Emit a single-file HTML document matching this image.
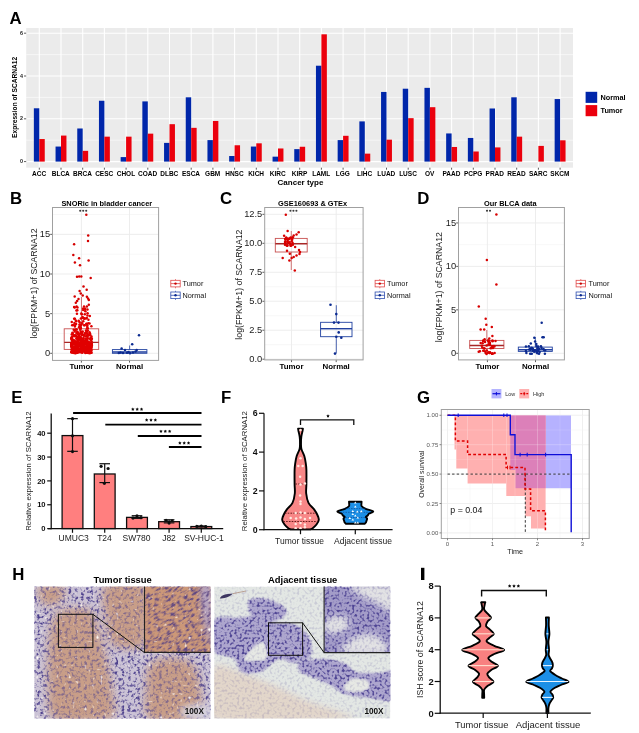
<!DOCTYPE html>
<html><head><meta charset="utf-8"><style>
html,body{margin:0;padding:0;background:#fff;width:639px;height:733px;overflow:hidden}
svg{display:block;will-change:transform}
text{font-family:"Liberation Sans", sans-serif}
</style></head><body>
<svg width="639" height="733" viewBox="0 0 639 733">
<rect width="639" height="733" fill="#fff"/>
<filter id="soft" x="0" y="0" width="639" height="733" filterUnits="userSpaceOnUse"><feGaussianBlur stdDeviation="0.33"/></filter>
<g filter="url(#soft)">
<text x="9.4" y="23.9" font-size="16.8" font-weight="bold" fill="#000">A</text>
<rect x="26.2" y="28" width="546.8" height="139.7" fill="#EBEBEB" stroke="none" stroke-width="1"/>
<line x1="26.2" y1="140.2" x2="573" y2="140.2" stroke="#FFFFFF" stroke-width="0.55"/>
<line x1="26.2" y1="97.4" x2="573" y2="97.4" stroke="#FFFFFF" stroke-width="0.55"/>
<line x1="26.2" y1="54.6" x2="573" y2="54.6" stroke="#FFFFFF" stroke-width="0.55"/>
<line x1="26.2" y1="161.6" x2="573" y2="161.6" stroke="#FFFFFF" stroke-width="1.1"/>
<line x1="26.2" y1="118.8" x2="573" y2="118.8" stroke="#FFFFFF" stroke-width="1.1"/>
<line x1="26.2" y1="76" x2="573" y2="76" stroke="#FFFFFF" stroke-width="1.1"/>
<line x1="26.2" y1="33.2" x2="573" y2="33.2" stroke="#FFFFFF" stroke-width="1.1"/>
<line x1="39.3" y1="28" x2="39.3" y2="167.7" stroke="#FFFFFF" stroke-width="1.1"/>
<line x1="61" y1="28" x2="61" y2="167.7" stroke="#FFFFFF" stroke-width="1.1"/>
<line x1="82.7" y1="28" x2="82.7" y2="167.7" stroke="#FFFFFF" stroke-width="1.1"/>
<line x1="104.4" y1="28" x2="104.4" y2="167.7" stroke="#FFFFFF" stroke-width="1.1"/>
<line x1="126.1" y1="28" x2="126.1" y2="167.7" stroke="#FFFFFF" stroke-width="1.1"/>
<line x1="147.8" y1="28" x2="147.8" y2="167.7" stroke="#FFFFFF" stroke-width="1.1"/>
<line x1="169.5" y1="28" x2="169.5" y2="167.7" stroke="#FFFFFF" stroke-width="1.1"/>
<line x1="191.2" y1="28" x2="191.2" y2="167.7" stroke="#FFFFFF" stroke-width="1.1"/>
<line x1="212.9" y1="28" x2="212.9" y2="167.7" stroke="#FFFFFF" stroke-width="1.1"/>
<line x1="234.6" y1="28" x2="234.6" y2="167.7" stroke="#FFFFFF" stroke-width="1.1"/>
<line x1="256.3" y1="28" x2="256.3" y2="167.7" stroke="#FFFFFF" stroke-width="1.1"/>
<line x1="278" y1="28" x2="278" y2="167.7" stroke="#FFFFFF" stroke-width="1.1"/>
<line x1="299.7" y1="28" x2="299.7" y2="167.7" stroke="#FFFFFF" stroke-width="1.1"/>
<line x1="321.4" y1="28" x2="321.4" y2="167.7" stroke="#FFFFFF" stroke-width="1.1"/>
<line x1="343.1" y1="28" x2="343.1" y2="167.7" stroke="#FFFFFF" stroke-width="1.1"/>
<line x1="364.8" y1="28" x2="364.8" y2="167.7" stroke="#FFFFFF" stroke-width="1.1"/>
<line x1="386.5" y1="28" x2="386.5" y2="167.7" stroke="#FFFFFF" stroke-width="1.1"/>
<line x1="408.2" y1="28" x2="408.2" y2="167.7" stroke="#FFFFFF" stroke-width="1.1"/>
<line x1="429.9" y1="28" x2="429.9" y2="167.7" stroke="#FFFFFF" stroke-width="1.1"/>
<line x1="451.6" y1="28" x2="451.6" y2="167.7" stroke="#FFFFFF" stroke-width="1.1"/>
<line x1="473.3" y1="28" x2="473.3" y2="167.7" stroke="#FFFFFF" stroke-width="1.1"/>
<line x1="495" y1="28" x2="495" y2="167.7" stroke="#FFFFFF" stroke-width="1.1"/>
<line x1="516.7" y1="28" x2="516.7" y2="167.7" stroke="#FFFFFF" stroke-width="1.1"/>
<line x1="538.4" y1="28" x2="538.4" y2="167.7" stroke="#FFFFFF" stroke-width="1.1"/>
<line x1="560.1" y1="28" x2="560.1" y2="167.7" stroke="#FFFFFF" stroke-width="1.1"/>
<rect x="33.85" y="108.28" width="5.45" height="53.32" fill="#0028AA" stroke="none" stroke-width="1"/>
<rect x="39.3" y="139.03" width="5.45" height="22.57" fill="#EB000A" stroke="none" stroke-width="1"/>
<line x1="39.3" y1="167.7" x2="39.3" y2="169.7" stroke="#333" stroke-width="0.8"/>
<text x="39.1" y="175.94" font-size="6.5" font-weight="bold" text-anchor="middle" fill="#000">ACC</text>
<rect x="55.55" y="146.55" width="5.45" height="15.05" fill="#0028AA" stroke="none" stroke-width="1"/>
<rect x="61" y="135.58" width="5.45" height="26.02" fill="#EB000A" stroke="none" stroke-width="1"/>
<line x1="61" y1="167.7" x2="61" y2="169.7" stroke="#333" stroke-width="0.8"/>
<text x="60.8" y="175.94" font-size="6.5" font-weight="bold" text-anchor="middle" fill="#000">BLCA</text>
<rect x="77.25" y="128.49" width="5.45" height="33.11" fill="#0028AA" stroke="none" stroke-width="1"/>
<rect x="82.7" y="150.85" width="5.45" height="10.75" fill="#EB000A" stroke="none" stroke-width="1"/>
<line x1="82.7" y1="167.7" x2="82.7" y2="169.7" stroke="#333" stroke-width="0.8"/>
<text x="82.5" y="175.94" font-size="6.5" font-weight="bold" text-anchor="middle" fill="#000">BRCA</text>
<rect x="98.95" y="100.75" width="5.45" height="60.84" fill="#0028AA" stroke="none" stroke-width="1"/>
<rect x="104.4" y="136.66" width="5.45" height="24.94" fill="#EB000A" stroke="none" stroke-width="1"/>
<line x1="104.4" y1="167.7" x2="104.4" y2="169.7" stroke="#333" stroke-width="0.8"/>
<text x="104.2" y="175.94" font-size="6.5" font-weight="bold" text-anchor="middle" fill="#000">CESC</text>
<rect x="120.65" y="157.09" width="5.45" height="4.51" fill="#0028AA" stroke="none" stroke-width="1"/>
<rect x="126.1" y="136.66" width="5.45" height="24.94" fill="#EB000A" stroke="none" stroke-width="1"/>
<line x1="126.1" y1="167.7" x2="126.1" y2="169.7" stroke="#333" stroke-width="0.8"/>
<text x="125.9" y="175.94" font-size="6.5" font-weight="bold" text-anchor="middle" fill="#000">CHOL</text>
<rect x="142.35" y="101.4" width="5.45" height="60.2" fill="#0028AA" stroke="none" stroke-width="1"/>
<rect x="147.8" y="133.65" width="5.45" height="27.95" fill="#EB000A" stroke="none" stroke-width="1"/>
<line x1="147.8" y1="167.7" x2="147.8" y2="169.7" stroke="#333" stroke-width="0.8"/>
<text x="147.6" y="175.94" font-size="6.5" font-weight="bold" text-anchor="middle" fill="#000">COAD</text>
<rect x="164.05" y="142.89" width="5.45" height="18.71" fill="#0028AA" stroke="none" stroke-width="1"/>
<rect x="169.5" y="124.19" width="5.45" height="37.41" fill="#EB000A" stroke="none" stroke-width="1"/>
<line x1="169.5" y1="167.7" x2="169.5" y2="169.7" stroke="#333" stroke-width="0.8"/>
<text x="169.3" y="175.94" font-size="6.5" font-weight="bold" text-anchor="middle" fill="#000">DLBC</text>
<rect x="185.75" y="97.31" width="5.45" height="64.29" fill="#0028AA" stroke="none" stroke-width="1"/>
<rect x="191.2" y="127.84" width="5.45" height="33.75" fill="#EB000A" stroke="none" stroke-width="1"/>
<line x1="191.2" y1="167.7" x2="191.2" y2="169.7" stroke="#333" stroke-width="0.8"/>
<text x="191" y="175.94" font-size="6.5" font-weight="bold" text-anchor="middle" fill="#000">ESCA</text>
<rect x="207.45" y="140.1" width="5.45" height="21.5" fill="#0028AA" stroke="none" stroke-width="1"/>
<rect x="212.9" y="120.97" width="5.45" height="40.63" fill="#EB000A" stroke="none" stroke-width="1"/>
<line x1="212.9" y1="167.7" x2="212.9" y2="169.7" stroke="#333" stroke-width="0.8"/>
<text x="212.7" y="175.94" font-size="6.5" font-weight="bold" text-anchor="middle" fill="#000">GBM</text>
<rect x="229.15" y="156.01" width="5.45" height="5.59" fill="#0028AA" stroke="none" stroke-width="1"/>
<rect x="234.6" y="145.26" width="5.45" height="16.34" fill="#EB000A" stroke="none" stroke-width="1"/>
<line x1="234.6" y1="167.7" x2="234.6" y2="169.7" stroke="#333" stroke-width="0.8"/>
<text x="234.4" y="175.94" font-size="6.5" font-weight="bold" text-anchor="middle" fill="#000">HNSC</text>
<rect x="250.85" y="146.55" width="5.45" height="15.05" fill="#0028AA" stroke="none" stroke-width="1"/>
<rect x="256.3" y="143.32" width="5.45" height="18.28" fill="#EB000A" stroke="none" stroke-width="1"/>
<line x1="256.3" y1="167.7" x2="256.3" y2="169.7" stroke="#333" stroke-width="0.8"/>
<text x="256.1" y="175.94" font-size="6.5" font-weight="bold" text-anchor="middle" fill="#000">KICH</text>
<rect x="272.55" y="156.66" width="5.45" height="4.94" fill="#0028AA" stroke="none" stroke-width="1"/>
<rect x="278" y="148.48" width="5.45" height="13.12" fill="#EB000A" stroke="none" stroke-width="1"/>
<line x1="278" y1="167.7" x2="278" y2="169.7" stroke="#333" stroke-width="0.8"/>
<text x="277.8" y="175.94" font-size="6.5" font-weight="bold" text-anchor="middle" fill="#000">KIRC</text>
<rect x="294.25" y="149.13" width="5.45" height="12.47" fill="#0028AA" stroke="none" stroke-width="1"/>
<rect x="299.7" y="146.76" width="5.45" height="14.84" fill="#EB000A" stroke="none" stroke-width="1"/>
<line x1="299.7" y1="167.7" x2="299.7" y2="169.7" stroke="#333" stroke-width="0.8"/>
<text x="299.5" y="175.94" font-size="6.5" font-weight="bold" text-anchor="middle" fill="#000">KIRP</text>
<rect x="315.95" y="65.71" width="5.45" height="95.89" fill="#0028AA" stroke="none" stroke-width="1"/>
<rect x="321.4" y="34.32" width="5.45" height="127.28" fill="#EB000A" stroke="none" stroke-width="1"/>
<line x1="321.4" y1="167.7" x2="321.4" y2="169.7" stroke="#333" stroke-width="0.8"/>
<text x="321.2" y="175.94" font-size="6.5" font-weight="bold" text-anchor="middle" fill="#000">LAML</text>
<rect x="337.65" y="140.1" width="5.45" height="21.5" fill="#0028AA" stroke="none" stroke-width="1"/>
<rect x="343.1" y="135.8" width="5.45" height="25.8" fill="#EB000A" stroke="none" stroke-width="1"/>
<line x1="343.1" y1="167.7" x2="343.1" y2="169.7" stroke="#333" stroke-width="0.8"/>
<text x="342.9" y="175.94" font-size="6.5" font-weight="bold" text-anchor="middle" fill="#000">LGG</text>
<rect x="359.35" y="121.39" width="5.45" height="40.21" fill="#0028AA" stroke="none" stroke-width="1"/>
<rect x="364.8" y="153.64" width="5.45" height="7.96" fill="#EB000A" stroke="none" stroke-width="1"/>
<line x1="364.8" y1="167.7" x2="364.8" y2="169.7" stroke="#333" stroke-width="0.8"/>
<text x="364.6" y="175.94" font-size="6.5" font-weight="bold" text-anchor="middle" fill="#000">LIHC</text>
<rect x="381.05" y="91.94" width="5.45" height="69.66" fill="#0028AA" stroke="none" stroke-width="1"/>
<rect x="386.5" y="139.67" width="5.45" height="21.93" fill="#EB000A" stroke="none" stroke-width="1"/>
<line x1="386.5" y1="167.7" x2="386.5" y2="169.7" stroke="#333" stroke-width="0.8"/>
<text x="386.3" y="175.94" font-size="6.5" font-weight="bold" text-anchor="middle" fill="#000">LUAD</text>
<rect x="402.75" y="88.71" width="5.45" height="72.89" fill="#0028AA" stroke="none" stroke-width="1"/>
<rect x="408.2" y="118.17" width="5.45" height="43.43" fill="#EB000A" stroke="none" stroke-width="1"/>
<line x1="408.2" y1="167.7" x2="408.2" y2="169.7" stroke="#333" stroke-width="0.8"/>
<text x="408" y="175.94" font-size="6.5" font-weight="bold" text-anchor="middle" fill="#000">LUSC</text>
<rect x="424.45" y="87.85" width="5.45" height="73.75" fill="#0028AA" stroke="none" stroke-width="1"/>
<rect x="429.9" y="107.2" width="5.45" height="54.39" fill="#EB000A" stroke="none" stroke-width="1"/>
<line x1="429.9" y1="167.7" x2="429.9" y2="169.7" stroke="#333" stroke-width="0.8"/>
<text x="429.7" y="175.94" font-size="6.5" font-weight="bold" text-anchor="middle" fill="#000">OV</text>
<rect x="446.15" y="133.44" width="5.45" height="28.16" fill="#0028AA" stroke="none" stroke-width="1"/>
<rect x="451.6" y="146.98" width="5.45" height="14.62" fill="#EB000A" stroke="none" stroke-width="1"/>
<line x1="451.6" y1="167.7" x2="451.6" y2="169.7" stroke="#333" stroke-width="0.8"/>
<text x="451.4" y="175.94" font-size="6.5" font-weight="bold" text-anchor="middle" fill="#000">PAAD</text>
<rect x="467.85" y="137.95" width="5.45" height="23.65" fill="#0028AA" stroke="none" stroke-width="1"/>
<rect x="473.3" y="151.5" width="5.45" height="10.1" fill="#EB000A" stroke="none" stroke-width="1"/>
<line x1="473.3" y1="167.7" x2="473.3" y2="169.7" stroke="#333" stroke-width="0.8"/>
<text x="473.1" y="175.94" font-size="6.5" font-weight="bold" text-anchor="middle" fill="#000">PCPG</text>
<rect x="489.55" y="108.49" width="5.45" height="53.11" fill="#0028AA" stroke="none" stroke-width="1"/>
<rect x="495" y="147.41" width="5.45" height="14.19" fill="#EB000A" stroke="none" stroke-width="1"/>
<line x1="495" y1="167.7" x2="495" y2="169.7" stroke="#333" stroke-width="0.8"/>
<text x="494.8" y="175.94" font-size="6.5" font-weight="bold" text-anchor="middle" fill="#000">PRAD</text>
<rect x="511.25" y="97.31" width="5.45" height="64.29" fill="#0028AA" stroke="none" stroke-width="1"/>
<rect x="516.7" y="136.66" width="5.45" height="24.94" fill="#EB000A" stroke="none" stroke-width="1"/>
<line x1="516.7" y1="167.7" x2="516.7" y2="169.7" stroke="#333" stroke-width="0.8"/>
<text x="516.5" y="175.94" font-size="6.5" font-weight="bold" text-anchor="middle" fill="#000">READ</text>
<rect x="538.4" y="145.91" width="5.45" height="15.69" fill="#EB000A" stroke="none" stroke-width="1"/>
<line x1="538.4" y1="167.7" x2="538.4" y2="169.7" stroke="#333" stroke-width="0.8"/>
<text x="538.2" y="175.94" font-size="6.5" font-weight="bold" text-anchor="middle" fill="#000">SARC</text>
<rect x="554.65" y="99.03" width="5.45" height="62.56" fill="#0028AA" stroke="none" stroke-width="1"/>
<rect x="560.1" y="140.31" width="5.45" height="21.28" fill="#EB000A" stroke="none" stroke-width="1"/>
<line x1="560.1" y1="167.7" x2="560.1" y2="169.7" stroke="#333" stroke-width="0.8"/>
<text x="559.9" y="175.94" font-size="6.5" font-weight="bold" text-anchor="middle" fill="#000">SKCM</text>
<line x1="24" y1="161.6" x2="26.2" y2="161.6" stroke="#333" stroke-width="0.8"/>
<text x="23" y="163.24" font-size="5.4" font-weight="bold" text-anchor="end" fill="#222">0</text>
<line x1="24" y1="118.8" x2="26.2" y2="118.8" stroke="#333" stroke-width="0.8"/>
<text x="23" y="120.44" font-size="5.4" font-weight="bold" text-anchor="end" fill="#222">2</text>
<line x1="24" y1="76" x2="26.2" y2="76" stroke="#333" stroke-width="0.8"/>
<text x="23" y="77.64" font-size="5.4" font-weight="bold" text-anchor="end" fill="#222">4</text>
<line x1="24" y1="33.2" x2="26.2" y2="33.2" stroke="#333" stroke-width="0.8"/>
<text x="23" y="34.84" font-size="5.4" font-weight="bold" text-anchor="end" fill="#222">6</text>
<text x="300.5" y="185.18" font-size="8" font-weight="bold" text-anchor="middle" fill="#000">Cancer type</text>
<text x="14.3" y="99.78" font-size="6.6" font-weight="bold" text-anchor="middle" fill="#000" transform="rotate(-90 14.3 97.4)">Expression of SCARNA12</text>
<rect x="585.6" y="91.8" width="11.6" height="11.1" fill="#0028AA" stroke="none" stroke-width="1"/>
<rect x="585.6" y="105.1" width="11.6" height="11.1" fill="#EB000A" stroke="none" stroke-width="1"/>
<text x="600.5" y="100.33" font-size="7.3" font-weight="bold" text-anchor="start" fill="#000">Normal</text>
<text x="600.5" y="113.23" font-size="7.3" font-weight="bold" text-anchor="start" fill="#000">Tumor</text>
<text x="9.9" y="204" font-size="16.8" font-weight="bold" fill="#000">B</text>
<rect x="52.5" y="207.5" width="106.1" height="152.9" fill="#FFFFFF" stroke="none" stroke-width="1"/>
<line x1="52.5" y1="333.48" x2="158.6" y2="333.48" stroke="#F2F2F2" stroke-width="0.6"/>
<line x1="52.5" y1="293.83" x2="158.6" y2="293.83" stroke="#F2F2F2" stroke-width="0.6"/>
<line x1="52.5" y1="254.18" x2="158.6" y2="254.18" stroke="#F2F2F2" stroke-width="0.6"/>
<line x1="52.5" y1="214.53" x2="158.6" y2="214.53" stroke="#F2F2F2" stroke-width="0.6"/>
<line x1="52.5" y1="353.3" x2="158.6" y2="353.3" stroke="#EBEBEB" stroke-width="0.9"/>
<line x1="52.5" y1="313.65" x2="158.6" y2="313.65" stroke="#EBEBEB" stroke-width="0.9"/>
<line x1="52.5" y1="274" x2="158.6" y2="274" stroke="#EBEBEB" stroke-width="0.9"/>
<line x1="52.5" y1="234.35" x2="158.6" y2="234.35" stroke="#EBEBEB" stroke-width="0.9"/>
<line x1="81.4" y1="207.5" x2="81.4" y2="360.4" stroke="#EBEBEB" stroke-width="0.9"/>
<line x1="129.5" y1="207.5" x2="129.5" y2="360.4" stroke="#EBEBEB" stroke-width="0.9"/>
<line x1="50.2" y1="353.3" x2="52.5" y2="353.3" stroke="#333" stroke-width="0.8"/>
<text x="50.1" y="356.15" font-size="9.3" font-weight="normal" text-anchor="end" fill="#1a1a1a">0</text>
<line x1="50.2" y1="313.65" x2="52.5" y2="313.65" stroke="#333" stroke-width="0.8"/>
<text x="50.1" y="316.5" font-size="9.3" font-weight="normal" text-anchor="end" fill="#1a1a1a">5</text>
<line x1="50.2" y1="274" x2="52.5" y2="274" stroke="#333" stroke-width="0.8"/>
<text x="50.1" y="276.85" font-size="9.3" font-weight="normal" text-anchor="end" fill="#1a1a1a">10</text>
<line x1="50.2" y1="234.35" x2="52.5" y2="234.35" stroke="#333" stroke-width="0.8"/>
<text x="50.1" y="237.2" font-size="9.3" font-weight="normal" text-anchor="end" fill="#1a1a1a">15</text>
<line x1="81.4" y1="360.4" x2="81.4" y2="362.6" stroke="#333" stroke-width="0.8"/>
<line x1="129.5" y1="360.4" x2="129.5" y2="362.6" stroke="#333" stroke-width="0.8"/>
<text x="81.4" y="369.04" font-size="7.9" font-weight="bold" text-anchor="middle" fill="#000">Tumor</text>
<text x="129.5" y="369.04" font-size="7.9" font-weight="bold" text-anchor="middle" fill="#000">Normal</text>
<text x="106.8" y="205.96" font-size="7.4" font-weight="bold" text-anchor="middle" fill="#000">SNORic in bladder cancer</text>
<text x="34.3" y="286.65" font-size="8.75" font-weight="normal" text-anchor="middle" fill="#1a1a1a" transform="rotate(-90 34.3 283.5)">log(FPKM+1) of SCARNA12</text>
<line x1="81.45" y1="297" x2="81.45" y2="328.8" stroke="#C85050" stroke-width="0.8"/>
<line x1="81.45" y1="349.4" x2="81.45" y2="353.3" stroke="#C85050" stroke-width="0.8"/>
<rect x="64.2" y="328.8" width="34.5" height="20.6" fill="none" stroke="#C85050" stroke-width="0.9"/>
<line x1="64.2" y1="342.4" x2="98.7" y2="342.4" stroke="#A82828" stroke-width="1.4"/>
<circle cx="86.3" cy="214.7" r="1.25" fill="#D40000"/>
<circle cx="88.2" cy="235.4" r="1.25" fill="#D40000"/>
<circle cx="88" cy="241.1" r="1.25" fill="#D40000"/>
<circle cx="74.1" cy="244.2" r="1.25" fill="#D40000"/>
<circle cx="73.3" cy="255.1" r="1.25" fill="#D40000"/>
<circle cx="79.1" cy="258.3" r="1.25" fill="#D40000"/>
<circle cx="88.6" cy="260.4" r="1.25" fill="#D40000"/>
<circle cx="74.9" cy="262.6" r="1.25" fill="#D40000"/>
<circle cx="80" cy="265.2" r="1.25" fill="#D40000"/>
<circle cx="77" cy="276.8" r="1.25" fill="#D40000"/>
<circle cx="79.2" cy="276.6" r="1.25" fill="#D40000"/>
<circle cx="81.3" cy="276.4" r="1.25" fill="#D40000"/>
<circle cx="90.7" cy="278" r="1.25" fill="#D40000"/>
<circle cx="83.5" cy="286.4" r="1.25" fill="#D40000"/>
<circle cx="86.7" cy="289.7" r="1.25" fill="#D40000"/>
<circle cx="79.6" cy="291.1" r="1.25" fill="#D40000"/>
<circle cx="80.8" cy="293.5" r="1.25" fill="#D40000"/>
<circle cx="82.7" cy="295.4" r="1.25" fill="#D40000"/>
<circle cx="74.7" cy="296.6" r="1.25" fill="#D40000"/>
<circle cx="86.9" cy="296.8" r="1.25" fill="#D40000"/>
<circle cx="88" cy="298.5" r="1.25" fill="#D40000"/>
<circle cx="88.8" cy="299.9" r="1.25" fill="#D40000"/>
<circle cx="78.5" cy="299.1" r="1.25" fill="#D40000"/>
<circle cx="77.1" cy="301" r="1.25" fill="#D40000"/>
<circle cx="75.8" cy="302.7" r="1.25" fill="#D40000"/>
<circle cx="88.8" cy="304.7" r="1.25" fill="#D40000"/>
<circle cx="86.9" cy="306.6" r="1.25" fill="#D40000"/>
<circle cx="85" cy="308.5" r="1.25" fill="#D40000"/>
<circle cx="74.7" cy="307.4" r="1.25" fill="#D40000"/>
<circle cx="76.6" cy="306.6" r="1.25" fill="#D40000"/>
<circle cx="80.68" cy="328.16" r="1.25" fill="#E00000"/>
<circle cx="83.24" cy="343.39" r="1.25" fill="#E00000"/>
<circle cx="87.55" cy="336.58" r="1.25" fill="#E00000"/>
<circle cx="77.27" cy="352.05" r="1.25" fill="#E00000"/>
<circle cx="71.78" cy="346.6" r="1.25" fill="#E00000"/>
<circle cx="84.02" cy="306.56" r="1.25" fill="#E00000"/>
<circle cx="74.21" cy="336.28" r="1.25" fill="#E00000"/>
<circle cx="74.89" cy="349.2" r="1.25" fill="#E00000"/>
<circle cx="71.53" cy="352.56" r="1.25" fill="#E00000"/>
<circle cx="81.8" cy="332.01" r="1.25" fill="#E00000"/>
<circle cx="81.4" cy="344.95" r="1.25" fill="#E00000"/>
<circle cx="91.85" cy="344.04" r="1.25" fill="#E00000"/>
<circle cx="84.93" cy="309.52" r="1.25" fill="#E00000"/>
<circle cx="75.72" cy="350.76" r="1.25" fill="#E00000"/>
<circle cx="79.31" cy="334.96" r="1.25" fill="#E00000"/>
<circle cx="91.02" cy="339.51" r="1.25" fill="#E00000"/>
<circle cx="75.3" cy="353.28" r="1.25" fill="#E00000"/>
<circle cx="91.49" cy="336.53" r="1.25" fill="#E00000"/>
<circle cx="72.43" cy="344.64" r="1.25" fill="#E00000"/>
<circle cx="72.73" cy="351.62" r="1.25" fill="#E00000"/>
<circle cx="91.15" cy="344.02" r="1.25" fill="#E00000"/>
<circle cx="73.02" cy="346.7" r="1.25" fill="#E00000"/>
<circle cx="87.64" cy="347.26" r="1.25" fill="#E00000"/>
<circle cx="74.9" cy="341.23" r="1.25" fill="#E00000"/>
<circle cx="73.65" cy="348.58" r="1.25" fill="#E00000"/>
<circle cx="75.37" cy="344.05" r="1.25" fill="#E00000"/>
<circle cx="91.29" cy="344.99" r="1.25" fill="#E00000"/>
<circle cx="89.48" cy="342.45" r="1.25" fill="#E00000"/>
<circle cx="84.38" cy="334.92" r="1.25" fill="#E00000"/>
<circle cx="91.68" cy="338.9" r="1.25" fill="#E00000"/>
<circle cx="77.81" cy="352.24" r="1.25" fill="#E00000"/>
<circle cx="72.44" cy="332.85" r="1.25" fill="#E00000"/>
<circle cx="83.53" cy="345.6" r="1.25" fill="#E00000"/>
<circle cx="80.42" cy="348.89" r="1.25" fill="#E00000"/>
<circle cx="82.67" cy="318" r="1.25" fill="#E00000"/>
<circle cx="74.14" cy="346.78" r="1.25" fill="#E00000"/>
<circle cx="76.14" cy="324.12" r="1.25" fill="#E00000"/>
<circle cx="75.03" cy="351.42" r="1.25" fill="#E00000"/>
<circle cx="83.16" cy="308.52" r="1.25" fill="#E00000"/>
<circle cx="73.08" cy="325.11" r="1.25" fill="#E00000"/>
<circle cx="85.7" cy="344.76" r="1.25" fill="#E00000"/>
<circle cx="88.2" cy="351.26" r="1.25" fill="#E00000"/>
<circle cx="86.03" cy="351.31" r="1.25" fill="#E00000"/>
<circle cx="75.7" cy="346.19" r="1.25" fill="#E00000"/>
<circle cx="76.78" cy="343.45" r="1.25" fill="#E00000"/>
<circle cx="71.25" cy="346.02" r="1.25" fill="#E00000"/>
<circle cx="80.26" cy="340.16" r="1.25" fill="#E00000"/>
<circle cx="82.92" cy="348.2" r="1.25" fill="#E00000"/>
<circle cx="78.51" cy="343.09" r="1.25" fill="#E00000"/>
<circle cx="84.07" cy="318.31" r="1.25" fill="#E00000"/>
<circle cx="71.64" cy="347.66" r="1.25" fill="#E00000"/>
<circle cx="90.01" cy="349.99" r="1.25" fill="#E00000"/>
<circle cx="84.26" cy="350.9" r="1.25" fill="#E00000"/>
<circle cx="86.24" cy="352.73" r="1.25" fill="#E00000"/>
<circle cx="82.37" cy="348.59" r="1.25" fill="#E00000"/>
<circle cx="89.8" cy="353.28" r="1.25" fill="#E00000"/>
<circle cx="90.12" cy="347.24" r="1.25" fill="#E00000"/>
<circle cx="85.29" cy="333.07" r="1.25" fill="#E00000"/>
<circle cx="79.66" cy="322.21" r="1.25" fill="#E00000"/>
<circle cx="84.02" cy="343.15" r="1.25" fill="#E00000"/>
<circle cx="83.14" cy="341.56" r="1.25" fill="#E00000"/>
<circle cx="91.76" cy="338.42" r="1.25" fill="#E00000"/>
<circle cx="79.06" cy="327.31" r="1.25" fill="#E00000"/>
<circle cx="83.1" cy="345.1" r="1.25" fill="#E00000"/>
<circle cx="86.65" cy="350.68" r="1.25" fill="#E00000"/>
<circle cx="83.53" cy="349.07" r="1.25" fill="#E00000"/>
<circle cx="81.34" cy="351.02" r="1.25" fill="#E00000"/>
<circle cx="90.23" cy="335.03" r="1.25" fill="#E00000"/>
<circle cx="85.14" cy="343.26" r="1.25" fill="#E00000"/>
<circle cx="74.46" cy="352.59" r="1.25" fill="#E00000"/>
<circle cx="80.18" cy="329.75" r="1.25" fill="#E00000"/>
<circle cx="84.88" cy="341.63" r="1.25" fill="#E00000"/>
<circle cx="90.1" cy="333.76" r="1.25" fill="#E00000"/>
<circle cx="83.15" cy="339.58" r="1.25" fill="#E00000"/>
<circle cx="73.76" cy="344.24" r="1.25" fill="#E00000"/>
<circle cx="85.84" cy="341.27" r="1.25" fill="#E00000"/>
<circle cx="74.45" cy="322.93" r="1.25" fill="#E00000"/>
<circle cx="76.68" cy="333.56" r="1.25" fill="#E00000"/>
<circle cx="81.27" cy="339" r="1.25" fill="#E00000"/>
<circle cx="88.52" cy="344.72" r="1.25" fill="#E00000"/>
<circle cx="74.17" cy="318.75" r="1.25" fill="#E00000"/>
<circle cx="85.78" cy="350.89" r="1.25" fill="#E00000"/>
<circle cx="77.39" cy="350.82" r="1.25" fill="#E00000"/>
<circle cx="80.45" cy="346.92" r="1.25" fill="#E00000"/>
<circle cx="88.32" cy="352.53" r="1.25" fill="#E00000"/>
<circle cx="84.11" cy="350.96" r="1.25" fill="#E00000"/>
<circle cx="84.13" cy="350.45" r="1.25" fill="#E00000"/>
<circle cx="85.27" cy="342.71" r="1.25" fill="#E00000"/>
<circle cx="80.88" cy="325.23" r="1.25" fill="#E00000"/>
<circle cx="85.9" cy="339.88" r="1.25" fill="#E00000"/>
<circle cx="76.62" cy="352.39" r="1.25" fill="#E00000"/>
<circle cx="83.8" cy="348.61" r="1.25" fill="#E00000"/>
<circle cx="79.16" cy="339.66" r="1.25" fill="#E00000"/>
<circle cx="90.48" cy="349.08" r="1.25" fill="#E00000"/>
<circle cx="73.63" cy="350.48" r="1.25" fill="#E00000"/>
<circle cx="78.81" cy="334.91" r="1.25" fill="#E00000"/>
<circle cx="89.37" cy="334.78" r="1.25" fill="#E00000"/>
<circle cx="84.58" cy="340.83" r="1.25" fill="#E00000"/>
<circle cx="86.06" cy="348.74" r="1.25" fill="#E00000"/>
<circle cx="85.97" cy="330.4" r="1.25" fill="#E00000"/>
<circle cx="91.42" cy="326.3" r="1.25" fill="#E00000"/>
<circle cx="87.51" cy="333.68" r="1.25" fill="#E00000"/>
<circle cx="78.22" cy="333.54" r="1.25" fill="#E00000"/>
<circle cx="80.16" cy="340.76" r="1.25" fill="#E00000"/>
<circle cx="71.5" cy="351.73" r="1.25" fill="#E00000"/>
<circle cx="87.7" cy="351.01" r="1.25" fill="#E00000"/>
<circle cx="77.94" cy="339.64" r="1.25" fill="#E00000"/>
<circle cx="81.75" cy="349.01" r="1.25" fill="#E00000"/>
<circle cx="88.54" cy="348.09" r="1.25" fill="#E00000"/>
<circle cx="90.83" cy="340.24" r="1.25" fill="#E00000"/>
<circle cx="75.55" cy="348.67" r="1.25" fill="#E00000"/>
<circle cx="84.32" cy="348.5" r="1.25" fill="#E00000"/>
<circle cx="88.62" cy="334.69" r="1.25" fill="#E00000"/>
<circle cx="88.65" cy="348.89" r="1.25" fill="#E00000"/>
<circle cx="88.77" cy="345.87" r="1.25" fill="#E00000"/>
<circle cx="82.64" cy="317.04" r="1.25" fill="#E00000"/>
<circle cx="82.15" cy="342.51" r="1.25" fill="#E00000"/>
<circle cx="91.26" cy="351.07" r="1.25" fill="#E00000"/>
<circle cx="79.31" cy="351.57" r="1.25" fill="#E00000"/>
<circle cx="81.21" cy="333.21" r="1.25" fill="#E00000"/>
<circle cx="79.59" cy="339.75" r="1.25" fill="#E00000"/>
<circle cx="77.48" cy="307.54" r="1.25" fill="#E00000"/>
<circle cx="73.57" cy="347.35" r="1.25" fill="#E00000"/>
<circle cx="80.91" cy="343.04" r="1.25" fill="#E00000"/>
<circle cx="74.92" cy="329.89" r="1.25" fill="#E00000"/>
<circle cx="87.27" cy="347.71" r="1.25" fill="#E00000"/>
<circle cx="74.98" cy="350.47" r="1.25" fill="#E00000"/>
<circle cx="78.36" cy="349.26" r="1.25" fill="#E00000"/>
<circle cx="73.1" cy="343.62" r="1.25" fill="#E00000"/>
<circle cx="76.16" cy="343.11" r="1.25" fill="#E00000"/>
<circle cx="82.04" cy="343.39" r="1.25" fill="#E00000"/>
<circle cx="82.02" cy="344.57" r="1.25" fill="#E00000"/>
<circle cx="75.19" cy="344.65" r="1.25" fill="#E00000"/>
<circle cx="88.78" cy="343.88" r="1.25" fill="#E00000"/>
<circle cx="88.89" cy="342.13" r="1.25" fill="#E00000"/>
<circle cx="89.86" cy="352.04" r="1.25" fill="#E00000"/>
<circle cx="77.51" cy="331.64" r="1.25" fill="#E00000"/>
<circle cx="91.87" cy="345.52" r="1.25" fill="#E00000"/>
<circle cx="75.93" cy="348.52" r="1.25" fill="#E00000"/>
<circle cx="88.38" cy="352.98" r="1.25" fill="#E00000"/>
<circle cx="87.49" cy="347.94" r="1.25" fill="#E00000"/>
<circle cx="71.27" cy="338.49" r="1.25" fill="#E00000"/>
<circle cx="85.23" cy="342.93" r="1.25" fill="#E00000"/>
<circle cx="74.86" cy="318.74" r="1.25" fill="#E00000"/>
<circle cx="85.3" cy="352.58" r="1.25" fill="#E00000"/>
<circle cx="72.38" cy="339.26" r="1.25" fill="#E00000"/>
<circle cx="81.71" cy="338.65" r="1.25" fill="#E00000"/>
<circle cx="73.98" cy="349.79" r="1.25" fill="#E00000"/>
<circle cx="91.7" cy="346.8" r="1.25" fill="#E00000"/>
<circle cx="72.2" cy="349.9" r="1.25" fill="#E00000"/>
<circle cx="85.9" cy="318.52" r="1.25" fill="#E00000"/>
<circle cx="80.71" cy="331.47" r="1.25" fill="#E00000"/>
<circle cx="71.18" cy="338.71" r="1.25" fill="#E00000"/>
<circle cx="88.63" cy="346.44" r="1.25" fill="#E00000"/>
<circle cx="79.41" cy="334.61" r="1.25" fill="#E00000"/>
<circle cx="74.37" cy="347.73" r="1.25" fill="#E00000"/>
<circle cx="87.74" cy="328.26" r="1.25" fill="#E00000"/>
<circle cx="88.98" cy="350.87" r="1.25" fill="#E00000"/>
<circle cx="81.49" cy="340.02" r="1.25" fill="#E00000"/>
<circle cx="77.29" cy="310.36" r="1.25" fill="#E00000"/>
<circle cx="87.24" cy="326.73" r="1.25" fill="#E00000"/>
<circle cx="89.73" cy="338.82" r="1.25" fill="#E00000"/>
<circle cx="87.01" cy="328.51" r="1.25" fill="#E00000"/>
<circle cx="79.42" cy="344.21" r="1.25" fill="#E00000"/>
<circle cx="80.75" cy="343.47" r="1.25" fill="#E00000"/>
<circle cx="78.37" cy="348.63" r="1.25" fill="#E00000"/>
<circle cx="90.74" cy="347.15" r="1.25" fill="#E00000"/>
<circle cx="77.99" cy="347.22" r="1.25" fill="#E00000"/>
<circle cx="79.08" cy="340" r="1.25" fill="#E00000"/>
<circle cx="84.82" cy="314.23" r="1.25" fill="#E00000"/>
<circle cx="91.48" cy="347.08" r="1.25" fill="#E00000"/>
<circle cx="76.29" cy="338.71" r="1.25" fill="#E00000"/>
<circle cx="71.96" cy="340.37" r="1.25" fill="#E00000"/>
<circle cx="76.17" cy="349.45" r="1.25" fill="#E00000"/>
<circle cx="81.56" cy="333.67" r="1.25" fill="#E00000"/>
<circle cx="89.82" cy="316" r="1.25" fill="#E00000"/>
<circle cx="87.9" cy="349.49" r="1.25" fill="#E00000"/>
<circle cx="71.85" cy="336.88" r="1.25" fill="#E00000"/>
<circle cx="80.81" cy="347.59" r="1.25" fill="#E00000"/>
<circle cx="81.31" cy="341.75" r="1.25" fill="#E00000"/>
<circle cx="79.73" cy="326.54" r="1.25" fill="#E00000"/>
<circle cx="83.45" cy="342.99" r="1.25" fill="#E00000"/>
<circle cx="82.67" cy="349.43" r="1.25" fill="#E00000"/>
<circle cx="85.95" cy="336.38" r="1.25" fill="#E00000"/>
<circle cx="71.8" cy="344.42" r="1.25" fill="#E00000"/>
<circle cx="86.75" cy="352.52" r="1.25" fill="#E00000"/>
<circle cx="71.95" cy="337.5" r="1.25" fill="#E00000"/>
<circle cx="74.15" cy="307.04" r="1.25" fill="#E00000"/>
<circle cx="80.93" cy="337.97" r="1.25" fill="#E00000"/>
<circle cx="81.89" cy="323.71" r="1.25" fill="#E00000"/>
<circle cx="80.74" cy="327.51" r="1.25" fill="#E00000"/>
<circle cx="83.16" cy="310.08" r="1.25" fill="#E00000"/>
<circle cx="84.01" cy="341.44" r="1.25" fill="#E00000"/>
<circle cx="81.99" cy="352.18" r="1.25" fill="#E00000"/>
<circle cx="80.2" cy="349.57" r="1.25" fill="#E00000"/>
<circle cx="83.13" cy="344.38" r="1.25" fill="#E00000"/>
<circle cx="87.24" cy="350.74" r="1.25" fill="#E00000"/>
<circle cx="86.32" cy="323.93" r="1.25" fill="#E00000"/>
<circle cx="73.29" cy="352.86" r="1.25" fill="#E00000"/>
<circle cx="84.02" cy="325.31" r="1.25" fill="#E00000"/>
<circle cx="82.76" cy="350.86" r="1.25" fill="#E00000"/>
<circle cx="84.2" cy="335.38" r="1.25" fill="#E00000"/>
<circle cx="91.47" cy="349.98" r="1.25" fill="#E00000"/>
<circle cx="71.73" cy="321.94" r="1.25" fill="#E00000"/>
<circle cx="76.59" cy="344.93" r="1.25" fill="#E00000"/>
<circle cx="82.27" cy="349.35" r="1.25" fill="#E00000"/>
<circle cx="72.72" cy="349.43" r="1.25" fill="#E00000"/>
<circle cx="78.74" cy="337.34" r="1.25" fill="#E00000"/>
<circle cx="75.32" cy="348.05" r="1.25" fill="#E00000"/>
<circle cx="72.46" cy="352.56" r="1.25" fill="#E00000"/>
<circle cx="87.89" cy="330.6" r="1.25" fill="#E00000"/>
<circle cx="79.81" cy="352.33" r="1.25" fill="#E00000"/>
<circle cx="87.91" cy="345.12" r="1.25" fill="#E00000"/>
<circle cx="77.73" cy="332.93" r="1.25" fill="#E00000"/>
<circle cx="86.57" cy="323.87" r="1.25" fill="#E00000"/>
<circle cx="78.65" cy="338.04" r="1.25" fill="#E00000"/>
<circle cx="72.64" cy="349.89" r="1.25" fill="#E00000"/>
<circle cx="81.08" cy="349.9" r="1.25" fill="#E00000"/>
<circle cx="72.5" cy="347.09" r="1.25" fill="#E00000"/>
<circle cx="84.8" cy="333.7" r="1.25" fill="#E00000"/>
<circle cx="85.47" cy="346.96" r="1.25" fill="#E00000"/>
<circle cx="73.9" cy="335.27" r="1.25" fill="#E00000"/>
<circle cx="73.37" cy="351.59" r="1.25" fill="#E00000"/>
<circle cx="82.85" cy="342.07" r="1.25" fill="#E00000"/>
<circle cx="88.43" cy="319.76" r="1.25" fill="#E00000"/>
<circle cx="77.57" cy="349.98" r="1.25" fill="#E00000"/>
<circle cx="90.53" cy="343.72" r="1.25" fill="#E00000"/>
<circle cx="78.5" cy="344.44" r="1.25" fill="#E00000"/>
<circle cx="79.04" cy="345.5" r="1.25" fill="#E00000"/>
<circle cx="82.74" cy="344.26" r="1.25" fill="#E00000"/>
<circle cx="82.72" cy="331.4" r="1.25" fill="#E00000"/>
<circle cx="86.84" cy="347.59" r="1.25" fill="#E00000"/>
<circle cx="71.37" cy="343.26" r="1.25" fill="#E00000"/>
<circle cx="91.19" cy="338.49" r="1.25" fill="#E00000"/>
<circle cx="87.79" cy="349.08" r="1.25" fill="#E00000"/>
<circle cx="72.66" cy="333.25" r="1.25" fill="#E00000"/>
<circle cx="86.38" cy="347.23" r="1.25" fill="#E00000"/>
<circle cx="84.22" cy="350.28" r="1.25" fill="#E00000"/>
<circle cx="76.05" cy="352.84" r="1.25" fill="#E00000"/>
<circle cx="86.97" cy="336.09" r="1.25" fill="#E00000"/>
<circle cx="77.99" cy="352.2" r="1.25" fill="#E00000"/>
<circle cx="81.29" cy="313.51" r="1.25" fill="#E00000"/>
<circle cx="86.04" cy="341.44" r="1.25" fill="#E00000"/>
<circle cx="88.25" cy="342.77" r="1.25" fill="#E00000"/>
<circle cx="88.82" cy="347.07" r="1.25" fill="#E00000"/>
<circle cx="89.56" cy="323.54" r="1.25" fill="#E00000"/>
<circle cx="81.81" cy="314.28" r="1.25" fill="#E00000"/>
<circle cx="79.73" cy="349.29" r="1.25" fill="#E00000"/>
<circle cx="86.47" cy="341.52" r="1.25" fill="#E00000"/>
<circle cx="75.75" cy="320.58" r="1.25" fill="#E00000"/>
<circle cx="91.26" cy="344.49" r="1.25" fill="#E00000"/>
<circle cx="77.38" cy="348.81" r="1.25" fill="#E00000"/>
<circle cx="74.67" cy="341" r="1.25" fill="#E00000"/>
<circle cx="80.53" cy="336.81" r="1.25" fill="#E00000"/>
<circle cx="73.18" cy="350.57" r="1.25" fill="#E00000"/>
<circle cx="75.46" cy="351.55" r="1.25" fill="#E00000"/>
<circle cx="75.6" cy="350.03" r="1.25" fill="#E00000"/>
<circle cx="76.8" cy="337.65" r="1.25" fill="#E00000"/>
<circle cx="82.41" cy="352.82" r="1.25" fill="#E00000"/>
<circle cx="76.37" cy="336.19" r="1.25" fill="#E00000"/>
<circle cx="78.72" cy="320.67" r="1.25" fill="#E00000"/>
<circle cx="91" cy="343.03" r="1.25" fill="#E00000"/>
<circle cx="90.8" cy="352.61" r="1.25" fill="#E00000"/>
<circle cx="81.98" cy="339.56" r="1.25" fill="#E00000"/>
<circle cx="76.67" cy="349.56" r="1.25" fill="#E00000"/>
<circle cx="76.94" cy="313.87" r="1.25" fill="#E00000"/>
<circle cx="87.63" cy="342" r="1.25" fill="#E00000"/>
<circle cx="83.63" cy="351.34" r="1.25" fill="#E00000"/>
<circle cx="76.35" cy="347.51" r="1.25" fill="#E00000"/>
<circle cx="84.28" cy="334.88" r="1.25" fill="#E00000"/>
<circle cx="82.13" cy="323.17" r="1.25" fill="#E00000"/>
<circle cx="87.08" cy="344.56" r="1.25" fill="#E00000"/>
<circle cx="88.16" cy="343.32" r="1.25" fill="#E00000"/>
<circle cx="76.57" cy="332.56" r="1.25" fill="#E00000"/>
<circle cx="80.74" cy="342.15" r="1.25" fill="#E00000"/>
<circle cx="87.47" cy="315.55" r="1.25" fill="#E00000"/>
<circle cx="87.48" cy="345.5" r="1.25" fill="#E00000"/>
<circle cx="88.25" cy="348.8" r="1.25" fill="#E00000"/>
<circle cx="82.31" cy="350.71" r="1.25" fill="#E00000"/>
<circle cx="77.44" cy="340.97" r="1.25" fill="#E00000"/>
<circle cx="72.5" cy="334.52" r="1.25" fill="#E00000"/>
<circle cx="78.45" cy="334.85" r="1.25" fill="#E00000"/>
<circle cx="73.12" cy="349.45" r="1.25" fill="#E00000"/>
<circle cx="88.32" cy="323.14" r="1.25" fill="#E00000"/>
<circle cx="71.16" cy="345.91" r="1.25" fill="#E00000"/>
<circle cx="82.75" cy="351.12" r="1.25" fill="#E00000"/>
<circle cx="71.12" cy="344.82" r="1.25" fill="#E00000"/>
<circle cx="76.41" cy="310.49" r="1.25" fill="#E00000"/>
<circle cx="82.24" cy="350.4" r="1.25" fill="#E00000"/>
<circle cx="77.99" cy="342.12" r="1.25" fill="#E00000"/>
<circle cx="75.1" cy="348.72" r="1.25" fill="#E00000"/>
<circle cx="77.82" cy="345.37" r="1.25" fill="#E00000"/>
<circle cx="86.1" cy="333.22" r="1.25" fill="#E00000"/>
<circle cx="73.86" cy="350.87" r="1.25" fill="#E00000"/>
<circle cx="85.13" cy="348.66" r="1.25" fill="#E00000"/>
<circle cx="88.48" cy="348.15" r="1.25" fill="#E00000"/>
<circle cx="72.79" cy="342.38" r="1.25" fill="#E00000"/>
<circle cx="79.44" cy="349.92" r="1.25" fill="#E00000"/>
<circle cx="90.23" cy="348.19" r="1.25" fill="#E00000"/>
<circle cx="87" cy="336.17" r="1.25" fill="#E00000"/>
<circle cx="77.86" cy="339.53" r="1.25" fill="#E00000"/>
<circle cx="71.22" cy="352.05" r="1.25" fill="#E00000"/>
<circle cx="87.48" cy="342.86" r="1.25" fill="#E00000"/>
<circle cx="83.25" cy="321.25" r="1.25" fill="#E00000"/>
<circle cx="84.57" cy="347.99" r="1.25" fill="#E00000"/>
<circle cx="78.83" cy="343.79" r="1.25" fill="#E00000"/>
<circle cx="83.74" cy="347.97" r="1.25" fill="#E00000"/>
<circle cx="87" cy="331.73" r="1.25" fill="#E00000"/>
<circle cx="78.3" cy="333.74" r="1.25" fill="#E00000"/>
<circle cx="91.62" cy="341.47" r="1.25" fill="#E00000"/>
<circle cx="85.92" cy="338.68" r="1.25" fill="#E00000"/>
<circle cx="90.74" cy="346.26" r="1.25" fill="#E00000"/>
<circle cx="76.04" cy="351.71" r="1.25" fill="#E00000"/>
<circle cx="85.54" cy="348.6" r="1.25" fill="#E00000"/>
<circle cx="80.62" cy="343.14" r="1.25" fill="#E00000"/>
<circle cx="91.35" cy="348.44" r="1.25" fill="#E00000"/>
<circle cx="82.68" cy="341.03" r="1.25" fill="#E00000"/>
<circle cx="76.45" cy="344.85" r="1.25" fill="#E00000"/>
<circle cx="86.8" cy="317.9" r="1.25" fill="#E00000"/>
<circle cx="76.96" cy="337.38" r="1.25" fill="#E00000"/>
<circle cx="82.95" cy="344.7" r="1.25" fill="#E00000"/>
<circle cx="82.4" cy="346.68" r="1.25" fill="#E00000"/>
<circle cx="71.57" cy="337.84" r="1.25" fill="#E00000"/>
<circle cx="84.73" cy="325.22" r="1.25" fill="#E00000"/>
<circle cx="85" cy="351" r="1.25" fill="#E00000"/>
<circle cx="87.78" cy="341.58" r="1.25" fill="#E00000"/>
<circle cx="75.09" cy="342.52" r="1.25" fill="#E00000"/>
<circle cx="82.86" cy="345.98" r="1.25" fill="#E00000"/>
<circle cx="81.82" cy="344.1" r="1.25" fill="#E00000"/>
<circle cx="84.38" cy="343.57" r="1.25" fill="#E00000"/>
<circle cx="84.99" cy="348.87" r="1.25" fill="#E00000"/>
<circle cx="80.77" cy="337.72" r="1.25" fill="#E00000"/>
<circle cx="84" cy="349.23" r="1.25" fill="#E00000"/>
<circle cx="81.1" cy="352.3" r="1.25" fill="#E00000"/>
<circle cx="87.44" cy="309.57" r="1.25" fill="#E00000"/>
<circle cx="80.01" cy="333.47" r="1.25" fill="#E00000"/>
<circle cx="81.93" cy="341.27" r="1.25" fill="#E00000"/>
<circle cx="89.89" cy="345.15" r="1.25" fill="#E00000"/>
<circle cx="89.8" cy="335.29" r="1.25" fill="#E00000"/>
<circle cx="83.45" cy="346.86" r="1.25" fill="#E00000"/>
<circle cx="72.37" cy="347.92" r="1.25" fill="#E00000"/>
<circle cx="80.29" cy="338.28" r="1.25" fill="#E00000"/>
<circle cx="85.49" cy="350.2" r="1.25" fill="#E00000"/>
<circle cx="75.92" cy="350.95" r="1.25" fill="#E00000"/>
<circle cx="72.34" cy="346.39" r="1.25" fill="#E00000"/>
<circle cx="84.22" cy="318.81" r="1.25" fill="#E00000"/>
<circle cx="87.81" cy="338.26" r="1.25" fill="#E00000"/>
<circle cx="86.58" cy="347.98" r="1.25" fill="#E00000"/>
<circle cx="87.54" cy="348.85" r="1.25" fill="#E00000"/>
<circle cx="82.19" cy="350.21" r="1.25" fill="#E00000"/>
<circle cx="76.02" cy="329.5" r="1.25" fill="#E00000"/>
<circle cx="89.7" cy="351.36" r="1.25" fill="#E00000"/>
<circle cx="78.39" cy="339.12" r="1.25" fill="#E00000"/>
<circle cx="71.86" cy="349.49" r="1.25" fill="#E00000"/>
<circle cx="81.37" cy="345.1" r="1.25" fill="#E00000"/>
<circle cx="80.93" cy="318.43" r="1.25" fill="#E00000"/>
<circle cx="77.1" cy="347.23" r="1.25" fill="#E00000"/>
<circle cx="76.22" cy="321.3" r="1.25" fill="#E00000"/>
<circle cx="80.82" cy="340.66" r="1.25" fill="#E00000"/>
<circle cx="75.14" cy="324.9" r="1.25" fill="#E00000"/>
<circle cx="74.92" cy="326.53" r="1.25" fill="#E00000"/>
<circle cx="73.13" cy="351.52" r="1.25" fill="#E00000"/>
<circle cx="89.16" cy="343.45" r="1.25" fill="#E00000"/>
<circle cx="73.73" cy="329.73" r="1.25" fill="#E00000"/>
<circle cx="72.56" cy="341.36" r="1.25" fill="#E00000"/>
<circle cx="77.35" cy="348.38" r="1.25" fill="#E00000"/>
<circle cx="75.84" cy="350.82" r="1.25" fill="#E00000"/>
<circle cx="87.5" cy="346.2" r="1.25" fill="#E00000"/>
<circle cx="83.29" cy="340.32" r="1.25" fill="#E00000"/>
<circle cx="77.22" cy="332.27" r="1.25" fill="#E00000"/>
<circle cx="76.71" cy="329.5" r="1.25" fill="#E00000"/>
<circle cx="80.15" cy="324.62" r="1.25" fill="#E00000"/>
<circle cx="82.05" cy="335.1" r="1.25" fill="#E00000"/>
<circle cx="76.17" cy="345.41" r="1.25" fill="#E00000"/>
<circle cx="76.89" cy="350.19" r="1.25" fill="#E00000"/>
<circle cx="76.06" cy="347.59" r="1.25" fill="#E00000"/>
<circle cx="89.74" cy="346.01" r="1.25" fill="#E00000"/>
<circle cx="80.59" cy="328.71" r="1.25" fill="#E00000"/>
<circle cx="78.98" cy="351.03" r="1.25" fill="#E00000"/>
<circle cx="74.68" cy="335.46" r="1.25" fill="#E00000"/>
<circle cx="84.72" cy="346.41" r="1.25" fill="#E00000"/>
<circle cx="81.75" cy="344.43" r="1.25" fill="#E00000"/>
<circle cx="81.83" cy="343.11" r="1.25" fill="#E00000"/>
<circle cx="87.27" cy="325.37" r="1.25" fill="#E00000"/>
<circle cx="83.67" cy="338.39" r="1.25" fill="#E00000"/>
<circle cx="87.42" cy="334.23" r="1.25" fill="#E00000"/>
<circle cx="75.85" cy="345.81" r="1.25" fill="#E00000"/>
<circle cx="81.38" cy="350.48" r="1.25" fill="#E00000"/>
<circle cx="83.43" cy="337.89" r="1.25" fill="#E00000"/>
<circle cx="74.68" cy="331.61" r="1.25" fill="#E00000"/>
<circle cx="71.27" cy="342.65" r="1.25" fill="#E00000"/>
<circle cx="76.42" cy="341.53" r="1.25" fill="#E00000"/>
<circle cx="72.42" cy="348.17" r="1.25" fill="#E00000"/>
<circle cx="82.31" cy="333" r="1.25" fill="#E00000"/>
<circle cx="77.43" cy="352.8" r="1.25" fill="#E00000"/>
<circle cx="77.5" cy="346.63" r="1.25" fill="#E00000"/>
<circle cx="83.26" cy="344.09" r="1.25" fill="#E00000"/>
<circle cx="88.13" cy="351.81" r="1.25" fill="#E00000"/>
<circle cx="85.4" cy="353.09" r="1.25" fill="#E00000"/>
<circle cx="72.18" cy="325.23" r="1.25" fill="#E00000"/>
<circle cx="78.55" cy="346.28" r="1.25" fill="#E00000"/>
<circle cx="81.18" cy="349.87" r="1.25" fill="#E00000"/>
<circle cx="91.61" cy="352.66" r="1.25" fill="#E00000"/>
<circle cx="71.72" cy="334.41" r="1.25" fill="#E00000"/>
<circle cx="89.59" cy="347.85" r="1.25" fill="#E00000"/>
<circle cx="79.81" cy="345.47" r="1.25" fill="#E00000"/>
<circle cx="71.62" cy="347.06" r="1.25" fill="#E00000"/>
<circle cx="85.38" cy="311.35" r="1.25" fill="#E00000"/>
<circle cx="75.98" cy="353" r="1.25" fill="#E00000"/>
<circle cx="90.48" cy="338.23" r="1.25" fill="#E00000"/>
<circle cx="83.73" cy="335.85" r="1.25" fill="#E00000"/>
<circle cx="79.36" cy="324.65" r="1.25" fill="#E00000"/>
<circle cx="85.49" cy="343.12" r="1.25" fill="#E00000"/>
<circle cx="89.51" cy="332.22" r="1.25" fill="#E00000"/>
<circle cx="79.15" cy="349.38" r="1.25" fill="#E00000"/>
<circle cx="87.31" cy="339.7" r="1.25" fill="#E00000"/>
<circle cx="82.44" cy="348.95" r="1.25" fill="#E00000"/>
<circle cx="75.18" cy="347.1" r="1.25" fill="#E00000"/>
<circle cx="80.29" cy="343.29" r="1.25" fill="#E00000"/>
<circle cx="87.57" cy="313.35" r="1.25" fill="#E00000"/>
<circle cx="78.94" cy="351.24" r="1.25" fill="#E00000"/>
<circle cx="76.66" cy="349.23" r="1.25" fill="#E00000"/>
<circle cx="74.72" cy="342.76" r="1.25" fill="#E00000"/>
<circle cx="85.92" cy="332.2" r="1.25" fill="#E00000"/>
<circle cx="78.48" cy="336.5" r="1.25" fill="#E00000"/>
<circle cx="86.98" cy="342.95" r="1.25" fill="#E00000"/>
<circle cx="89.95" cy="348.94" r="1.25" fill="#E00000"/>
<circle cx="72.65" cy="348.17" r="1.25" fill="#E00000"/>
<circle cx="87.08" cy="341.69" r="1.25" fill="#E00000"/>
<circle cx="72.05" cy="342.76" r="1.25" fill="#E00000"/>
<circle cx="74.07" cy="353.05" r="1.25" fill="#E00000"/>
<circle cx="71.57" cy="349.87" r="1.25" fill="#E00000"/>
<circle cx="73.76" cy="340.06" r="1.25" fill="#E00000"/>
<circle cx="76.37" cy="346.45" r="1.25" fill="#E00000"/>
<circle cx="75.2" cy="349.93" r="1.25" fill="#E00000"/>
<circle cx="85.87" cy="347.5" r="1.25" fill="#E00000"/>
<circle cx="75.65" cy="335.26" r="1.25" fill="#E00000"/>
<circle cx="78.14" cy="337.7" r="1.25" fill="#E00000"/>
<circle cx="84.14" cy="350.74" r="1.25" fill="#E00000"/>
<circle cx="87.88" cy="352.63" r="1.25" fill="#E00000"/>
<line x1="129.65" y1="345.5" x2="129.65" y2="349.6" stroke="#2040A0" stroke-width="0.8"/>
<line x1="129.65" y1="353.3" x2="129.65" y2="353.3" stroke="#2040A0" stroke-width="0.8"/>
<rect x="112.4" y="349.6" width="34.5" height="3.7" fill="none" stroke="#2040A0" stroke-width="0.9"/>
<line x1="112.4" y1="352" x2="146.9" y2="352" stroke="#2040A0" stroke-width="1.4"/>
<circle cx="139" cy="335.2" r="1.25" fill="#0A2A90"/>
<circle cx="132.2" cy="344.2" r="1.25" fill="#0A2A90"/>
<circle cx="121.6" cy="348.6" r="1.25" fill="#0A2A90"/>
<circle cx="125" cy="349.9" r="1.25" fill="#0A2A90"/>
<circle cx="136.7" cy="349.9" r="1.25" fill="#0A2A90"/>
<circle cx="120.5" cy="352.5" r="1.25" fill="#0A2A90"/>
<circle cx="123" cy="353" r="1.25" fill="#0A2A90"/>
<circle cx="127" cy="352.8" r="1.25" fill="#0A2A90"/>
<circle cx="130" cy="353.2" r="1.25" fill="#0A2A90"/>
<circle cx="133" cy="352.6" r="1.25" fill="#0A2A90"/>
<circle cx="135.5" cy="351.6" r="1.25" fill="#0A2A90"/>
<circle cx="128.5" cy="352" r="1.25" fill="#0A2A90"/>
<circle cx="118.8" cy="352.9" r="1.25" fill="#0A2A90"/>
<rect x="52.5" y="207.5" width="106.1" height="152.9" fill="none" stroke="#A0A0A0" stroke-width="1"/>
<circle cx="80.2" cy="210.7" r="1.05" fill="#3a3a3a"/>
<circle cx="83.2" cy="210.7" r="1.05" fill="#3a3a3a"/>
<circle cx="86.2" cy="210.7" r="1.05" fill="#3a3a3a"/>
<line x1="175.5" y1="279.1" x2="175.5" y2="288.3" stroke="#E04848" stroke-width="0.7"/>
<rect x="170.8" y="280.3" width="9.4" height="6.6" fill="#FFFFFF" stroke="#E04848" stroke-width="0.8"/>
<line x1="170.8" y1="283.6" x2="180.2" y2="283.6" stroke="#E04848" stroke-width="0.8"/>
<circle cx="175.5" cy="283.6" r="1.2" fill="#C80000"/>
<text x="182.5" y="286.23" font-size="7.3" font-weight="normal" text-anchor="start" fill="#111">Tumor</text>
<line x1="175.5" y1="290.8" x2="175.5" y2="300" stroke="#3050B0" stroke-width="0.7"/>
<rect x="170.8" y="292" width="9.4" height="6.6" fill="#FFFFFF" stroke="#3050B0" stroke-width="0.8"/>
<line x1="170.8" y1="295.3" x2="180.2" y2="295.3" stroke="#3050B0" stroke-width="0.8"/>
<circle cx="175.5" cy="295.3" r="1.2" fill="#0A2A90"/>
<text x="182.5" y="298.03" font-size="7.3" font-weight="normal" text-anchor="start" fill="#111">Normal</text>
<text x="219.9" y="204.3" font-size="16.8" font-weight="bold" fill="#000">C</text>
<rect x="264.7" y="207.5" width="98.4" height="152.4" fill="#FFFFFF" stroke="none" stroke-width="1"/>
<line x1="264.7" y1="344.71" x2="363.1" y2="344.71" stroke="#F2F2F2" stroke-width="0.6"/>
<line x1="264.7" y1="315.74" x2="363.1" y2="315.74" stroke="#F2F2F2" stroke-width="0.6"/>
<line x1="264.7" y1="286.76" x2="363.1" y2="286.76" stroke="#F2F2F2" stroke-width="0.6"/>
<line x1="264.7" y1="257.79" x2="363.1" y2="257.79" stroke="#F2F2F2" stroke-width="0.6"/>
<line x1="264.7" y1="228.81" x2="363.1" y2="228.81" stroke="#F2F2F2" stroke-width="0.6"/>
<line x1="264.7" y1="359.2" x2="363.1" y2="359.2" stroke="#EBEBEB" stroke-width="0.9"/>
<line x1="264.7" y1="330.22" x2="363.1" y2="330.22" stroke="#EBEBEB" stroke-width="0.9"/>
<line x1="264.7" y1="301.25" x2="363.1" y2="301.25" stroke="#EBEBEB" stroke-width="0.9"/>
<line x1="264.7" y1="272.27" x2="363.1" y2="272.27" stroke="#EBEBEB" stroke-width="0.9"/>
<line x1="264.7" y1="243.3" x2="363.1" y2="243.3" stroke="#EBEBEB" stroke-width="0.9"/>
<line x1="264.7" y1="214.32" x2="363.1" y2="214.32" stroke="#EBEBEB" stroke-width="0.9"/>
<line x1="291.5" y1="207.5" x2="291.5" y2="359.9" stroke="#EBEBEB" stroke-width="0.9"/>
<line x1="336.2" y1="207.5" x2="336.2" y2="359.9" stroke="#EBEBEB" stroke-width="0.9"/>
<line x1="262.4" y1="359.2" x2="264.7" y2="359.2" stroke="#333" stroke-width="0.8"/>
<text x="262.3" y="362.05" font-size="9.3" font-weight="normal" text-anchor="end" fill="#1a1a1a">0.0</text>
<line x1="262.4" y1="330.22" x2="264.7" y2="330.22" stroke="#333" stroke-width="0.8"/>
<text x="262.3" y="333.07" font-size="9.3" font-weight="normal" text-anchor="end" fill="#1a1a1a">2.5</text>
<line x1="262.4" y1="301.25" x2="264.7" y2="301.25" stroke="#333" stroke-width="0.8"/>
<text x="262.3" y="304.1" font-size="9.3" font-weight="normal" text-anchor="end" fill="#1a1a1a">5.0</text>
<line x1="262.4" y1="272.27" x2="264.7" y2="272.27" stroke="#333" stroke-width="0.8"/>
<text x="262.3" y="275.12" font-size="9.3" font-weight="normal" text-anchor="end" fill="#1a1a1a">7.5</text>
<line x1="262.4" y1="243.3" x2="264.7" y2="243.3" stroke="#333" stroke-width="0.8"/>
<text x="262.3" y="246.15" font-size="9.3" font-weight="normal" text-anchor="end" fill="#1a1a1a">10.0</text>
<line x1="262.4" y1="214.32" x2="264.7" y2="214.32" stroke="#333" stroke-width="0.8"/>
<text x="262.3" y="217.17" font-size="9.3" font-weight="normal" text-anchor="end" fill="#1a1a1a">12.5</text>
<line x1="291.5" y1="359.9" x2="291.5" y2="362.1" stroke="#333" stroke-width="0.8"/>
<line x1="336.2" y1="359.9" x2="336.2" y2="362.1" stroke="#333" stroke-width="0.8"/>
<text x="291.5" y="369.04" font-size="7.9" font-weight="bold" text-anchor="middle" fill="#000">Tumor</text>
<text x="336.2" y="369.04" font-size="7.9" font-weight="bold" text-anchor="middle" fill="#000">Normal</text>
<text x="312.6" y="205.96" font-size="7.4" font-weight="bold" text-anchor="middle" fill="#000">GSE160693 &amp; GTEx</text>
<text x="238.8" y="287.75" font-size="8.75" font-weight="normal" text-anchor="middle" fill="#1a1a1a" transform="rotate(-90 238.8 284.6)">log(FPKM+1) of SCARNA12</text>
<line x1="291.25" y1="231" x2="291.25" y2="238.4" stroke="#C85050" stroke-width="0.8"/>
<line x1="291.25" y1="252" x2="291.25" y2="270" stroke="#C85050" stroke-width="0.8"/>
<rect x="275.3" y="238.4" width="31.9" height="13.6" fill="none" stroke="#C85050" stroke-width="0.9"/>
<line x1="275.3" y1="243.7" x2="307.2" y2="243.7" stroke="#A82828" stroke-width="1.4"/>
<circle cx="285.8" cy="214.7" r="1.25" fill="#D80000"/>
<circle cx="287.6" cy="231" r="1.25" fill="#D80000"/>
<circle cx="298.7" cy="232.2" r="1.25" fill="#D80000"/>
<circle cx="296.5" cy="234.6" r="1.25" fill="#D80000"/>
<circle cx="293.7" cy="235.4" r="1.25" fill="#D80000"/>
<circle cx="284.1" cy="235.8" r="1.25" fill="#D80000"/>
<circle cx="295.1" cy="247" r="1.25" fill="#D80000"/>
<circle cx="287" cy="250.8" r="1.25" fill="#D80000"/>
<circle cx="299" cy="250" r="1.25" fill="#D80000"/>
<circle cx="300" cy="252" r="1.25" fill="#D80000"/>
<circle cx="299.5" cy="254" r="1.25" fill="#D80000"/>
<circle cx="289.8" cy="253.7" r="1.25" fill="#D80000"/>
<circle cx="296.5" cy="255.6" r="1.25" fill="#D80000"/>
<circle cx="293.7" cy="257" r="1.25" fill="#D80000"/>
<circle cx="291.7" cy="258" r="1.25" fill="#D80000"/>
<circle cx="282.7" cy="258" r="1.25" fill="#D80000"/>
<circle cx="289.4" cy="260.4" r="1.25" fill="#D80000"/>
<circle cx="294.8" cy="270.4" r="1.25" fill="#D80000"/>
<circle cx="289.98" cy="243.68" r="1.25" fill="#D80000"/>
<circle cx="291.36" cy="245.48" r="1.25" fill="#D80000"/>
<circle cx="290.92" cy="245.3" r="1.25" fill="#D80000"/>
<circle cx="285.23" cy="241.19" r="1.25" fill="#D80000"/>
<circle cx="292.55" cy="242.84" r="1.25" fill="#D80000"/>
<circle cx="292.21" cy="238.02" r="1.25" fill="#D80000"/>
<circle cx="288.75" cy="239.22" r="1.25" fill="#D80000"/>
<circle cx="289.35" cy="242.17" r="1.25" fill="#D80000"/>
<circle cx="285.1" cy="238.95" r="1.25" fill="#D80000"/>
<circle cx="287.24" cy="245.25" r="1.25" fill="#D80000"/>
<circle cx="291.13" cy="238.44" r="1.25" fill="#D80000"/>
<circle cx="291.38" cy="238.25" r="1.25" fill="#D80000"/>
<circle cx="289.94" cy="238.14" r="1.25" fill="#D80000"/>
<circle cx="285.01" cy="244.84" r="1.25" fill="#D80000"/>
<circle cx="286.68" cy="238.94" r="1.25" fill="#D80000"/>
<circle cx="292.86" cy="244.85" r="1.25" fill="#D80000"/>
<circle cx="287.31" cy="245.65" r="1.25" fill="#D80000"/>
<circle cx="289.31" cy="243.1" r="1.25" fill="#D80000"/>
<circle cx="286.64" cy="245.47" r="1.25" fill="#D80000"/>
<circle cx="290.53" cy="245.7" r="1.25" fill="#D80000"/>
<circle cx="292.15" cy="239.69" r="1.25" fill="#D80000"/>
<circle cx="287.89" cy="238.49" r="1.25" fill="#D80000"/>
<circle cx="286.17" cy="237.59" r="1.25" fill="#D80000"/>
<circle cx="287.41" cy="242.43" r="1.25" fill="#D80000"/>
<circle cx="285.03" cy="243.1" r="1.25" fill="#D80000"/>
<circle cx="287.7" cy="239.79" r="1.25" fill="#D80000"/>
<circle cx="291.55" cy="241.33" r="1.25" fill="#D80000"/>
<circle cx="287.53" cy="241.33" r="1.25" fill="#D80000"/>
<circle cx="290.64" cy="237.51" r="1.25" fill="#D80000"/>
<circle cx="292.8" cy="237.21" r="1.25" fill="#D80000"/>
<line x1="336.3" y1="305.2" x2="336.3" y2="322.3" stroke="#2040A0" stroke-width="0.8"/>
<line x1="336.3" y1="336.7" x2="336.3" y2="353.3" stroke="#2040A0" stroke-width="0.8"/>
<rect x="320.6" y="322.3" width="31.4" height="14.4" fill="none" stroke="#2040A0" stroke-width="0.9"/>
<line x1="320.6" y1="328.7" x2="352" y2="328.7" stroke="#2040A0" stroke-width="1.4"/>
<circle cx="330.5" cy="304.7" r="1.3" fill="#0A2A90"/>
<circle cx="336.3" cy="314.1" r="1.3" fill="#0A2A90"/>
<circle cx="334" cy="322.6" r="1.3" fill="#0A2A90"/>
<circle cx="338.5" cy="322.6" r="1.3" fill="#0A2A90"/>
<circle cx="338.7" cy="332.4" r="1.3" fill="#0A2A90"/>
<circle cx="336.3" cy="336.7" r="1.3" fill="#0A2A90"/>
<circle cx="341.3" cy="337.8" r="1.3" fill="#0A2A90"/>
<circle cx="335" cy="353.6" r="1.3" fill="#0A2A90"/>
<rect x="264.7" y="207.5" width="98.4" height="152.4" fill="none" stroke="#A0A0A0" stroke-width="1"/>
<circle cx="290.4" cy="210.7" r="1.05" fill="#3a3a3a"/>
<circle cx="293.4" cy="210.7" r="1.05" fill="#3a3a3a"/>
<circle cx="296.4" cy="210.7" r="1.05" fill="#3a3a3a"/>
<line x1="379.8" y1="279.1" x2="379.8" y2="288.3" stroke="#E04848" stroke-width="0.7"/>
<rect x="375.1" y="280.3" width="9.4" height="6.6" fill="#FFFFFF" stroke="#E04848" stroke-width="0.8"/>
<line x1="375.1" y1="283.6" x2="384.5" y2="283.6" stroke="#E04848" stroke-width="0.8"/>
<circle cx="379.8" cy="283.6" r="1.2" fill="#C80000"/>
<text x="387" y="286.23" font-size="7.3" font-weight="normal" text-anchor="start" fill="#111">Tumor</text>
<line x1="379.8" y1="290.8" x2="379.8" y2="300" stroke="#3050B0" stroke-width="0.7"/>
<rect x="375.1" y="292" width="9.4" height="6.6" fill="#FFFFFF" stroke="#3050B0" stroke-width="0.8"/>
<line x1="375.1" y1="295.3" x2="384.5" y2="295.3" stroke="#3050B0" stroke-width="0.8"/>
<circle cx="379.8" cy="295.3" r="1.2" fill="#0A2A90"/>
<text x="387" y="298.03" font-size="7.3" font-weight="normal" text-anchor="start" fill="#111">Normal</text>
<text x="417.2" y="204.3" font-size="16.8" font-weight="bold" fill="#000">D</text>
<rect x="458.5" y="207.5" width="105.9" height="152.4" fill="#FFFFFF" stroke="none" stroke-width="1"/>
<line x1="458.5" y1="331.57" x2="564.4" y2="331.57" stroke="#F2F2F2" stroke-width="0.6"/>
<line x1="458.5" y1="288.12" x2="564.4" y2="288.12" stroke="#F2F2F2" stroke-width="0.6"/>
<line x1="458.5" y1="244.68" x2="564.4" y2="244.68" stroke="#F2F2F2" stroke-width="0.6"/>
<line x1="458.5" y1="353.3" x2="564.4" y2="353.3" stroke="#EBEBEB" stroke-width="0.9"/>
<line x1="458.5" y1="309.85" x2="564.4" y2="309.85" stroke="#EBEBEB" stroke-width="0.9"/>
<line x1="458.5" y1="266.4" x2="564.4" y2="266.4" stroke="#EBEBEB" stroke-width="0.9"/>
<line x1="458.5" y1="222.95" x2="564.4" y2="222.95" stroke="#EBEBEB" stroke-width="0.9"/>
<line x1="487.4" y1="207.5" x2="487.4" y2="359.9" stroke="#EBEBEB" stroke-width="0.9"/>
<line x1="535.5" y1="207.5" x2="535.5" y2="359.9" stroke="#EBEBEB" stroke-width="0.9"/>
<line x1="456.2" y1="353.3" x2="458.5" y2="353.3" stroke="#333" stroke-width="0.8"/>
<text x="456.1" y="356.15" font-size="9.3" font-weight="normal" text-anchor="end" fill="#1a1a1a">0</text>
<line x1="456.2" y1="309.85" x2="458.5" y2="309.85" stroke="#333" stroke-width="0.8"/>
<text x="456.1" y="312.7" font-size="9.3" font-weight="normal" text-anchor="end" fill="#1a1a1a">5</text>
<line x1="456.2" y1="266.4" x2="458.5" y2="266.4" stroke="#333" stroke-width="0.8"/>
<text x="456.1" y="269.25" font-size="9.3" font-weight="normal" text-anchor="end" fill="#1a1a1a">10</text>
<line x1="456.2" y1="222.95" x2="458.5" y2="222.95" stroke="#333" stroke-width="0.8"/>
<text x="456.1" y="225.8" font-size="9.3" font-weight="normal" text-anchor="end" fill="#1a1a1a">15</text>
<line x1="487.4" y1="359.9" x2="487.4" y2="362.1" stroke="#333" stroke-width="0.8"/>
<line x1="535.5" y1="359.9" x2="535.5" y2="362.1" stroke="#333" stroke-width="0.8"/>
<text x="487.4" y="369.04" font-size="7.9" font-weight="bold" text-anchor="middle" fill="#000">Tumor</text>
<text x="535.5" y="369.04" font-size="7.9" font-weight="bold" text-anchor="middle" fill="#000">Normal</text>
<text x="510.3" y="205.96" font-size="7.4" font-weight="bold" text-anchor="middle" fill="#000">Our BLCA data</text>
<text x="439.3" y="290.35" font-size="8.75" font-weight="normal" text-anchor="middle" fill="#1a1a1a" transform="rotate(-90 439.3 287.2)">log(FPKM+1) of SCARNA12</text>
<line x1="486.8" y1="330" x2="486.8" y2="340.4" stroke="#C85050" stroke-width="0.8"/>
<line x1="486.8" y1="348.5" x2="486.8" y2="353.3" stroke="#C85050" stroke-width="0.8"/>
<rect x="469.7" y="340.4" width="34.2" height="8.1" fill="none" stroke="#C85050" stroke-width="0.9"/>
<line x1="469.7" y1="345.5" x2="503.9" y2="345.5" stroke="#A82828" stroke-width="1.4"/>
<circle cx="496.4" cy="214.6" r="1.25" fill="#D80000"/>
<circle cx="486.9" cy="259.9" r="1.25" fill="#D80000"/>
<circle cx="496.4" cy="284.6" r="1.25" fill="#D80000"/>
<circle cx="478.8" cy="306.4" r="1.25" fill="#D80000"/>
<circle cx="485.7" cy="318.8" r="1.25" fill="#D80000"/>
<circle cx="486.3" cy="324.7" r="1.25" fill="#D80000"/>
<circle cx="491.8" cy="327.1" r="1.25" fill="#D80000"/>
<circle cx="480.6" cy="329.6" r="1.25" fill="#D80000"/>
<circle cx="484.2" cy="329.6" r="1.25" fill="#D80000"/>
<circle cx="492.4" cy="336.1" r="1.25" fill="#D80000"/>
<circle cx="489.3" cy="338.6" r="1.25" fill="#D80000"/>
<circle cx="484.6" cy="339.3" r="1.25" fill="#D80000"/>
<circle cx="495.5" cy="341.1" r="1.25" fill="#D80000"/>
<circle cx="494.6" cy="352.9" r="1.25" fill="#D80000"/>
<circle cx="482.31" cy="347.62" r="1.25" fill="#D80000"/>
<circle cx="484.42" cy="348.45" r="1.25" fill="#D80000"/>
<circle cx="488.51" cy="340.92" r="1.25" fill="#D80000"/>
<circle cx="478.71" cy="351.72" r="1.25" fill="#D80000"/>
<circle cx="482.65" cy="343.28" r="1.25" fill="#D80000"/>
<circle cx="494.43" cy="346.58" r="1.25" fill="#D80000"/>
<circle cx="491.88" cy="346.67" r="1.25" fill="#D80000"/>
<circle cx="488.73" cy="342.11" r="1.25" fill="#D80000"/>
<circle cx="488.66" cy="352.15" r="1.25" fill="#D80000"/>
<circle cx="486.87" cy="350.38" r="1.25" fill="#D80000"/>
<circle cx="489.24" cy="340.9" r="1.25" fill="#D80000"/>
<circle cx="490.63" cy="348.28" r="1.25" fill="#D80000"/>
<circle cx="483.32" cy="340.43" r="1.25" fill="#D80000"/>
<circle cx="492.35" cy="346.62" r="1.25" fill="#D80000"/>
<circle cx="490" cy="352.3" r="1.25" fill="#D80000"/>
<circle cx="489.93" cy="352.9" r="1.25" fill="#D80000"/>
<circle cx="484.82" cy="351.21" r="1.25" fill="#D80000"/>
<circle cx="485.61" cy="353.1" r="1.25" fill="#D80000"/>
<circle cx="492.56" cy="341.36" r="1.25" fill="#D80000"/>
<circle cx="480.68" cy="343.04" r="1.25" fill="#D80000"/>
<circle cx="493.95" cy="346.11" r="1.25" fill="#D80000"/>
<circle cx="488.53" cy="344.21" r="1.25" fill="#D80000"/>
<circle cx="486.62" cy="345.4" r="1.25" fill="#D80000"/>
<circle cx="484.11" cy="348.19" r="1.25" fill="#D80000"/>
<circle cx="487.85" cy="352.66" r="1.25" fill="#D80000"/>
<circle cx="489.41" cy="353.01" r="1.25" fill="#D80000"/>
<circle cx="492.2" cy="353.87" r="1.25" fill="#D80000"/>
<circle cx="489.24" cy="342.28" r="1.25" fill="#D80000"/>
<circle cx="492.27" cy="353.5" r="1.25" fill="#D80000"/>
<circle cx="492.98" cy="347.97" r="1.25" fill="#D80000"/>
<circle cx="489.92" cy="342.96" r="1.25" fill="#D80000"/>
<circle cx="491.81" cy="348.03" r="1.25" fill="#D80000"/>
<circle cx="483.06" cy="340.89" r="1.25" fill="#D80000"/>
<circle cx="492.16" cy="353.86" r="1.25" fill="#D80000"/>
<circle cx="479.92" cy="351.21" r="1.25" fill="#D80000"/>
<circle cx="485.07" cy="342.11" r="1.25" fill="#D80000"/>
<circle cx="483.2" cy="350.76" r="1.25" fill="#D80000"/>
<circle cx="492.46" cy="340.62" r="1.25" fill="#D80000"/>
<circle cx="488.33" cy="340.63" r="1.25" fill="#D80000"/>
<circle cx="490" cy="344.63" r="1.25" fill="#D80000"/>
<circle cx="492.59" cy="353.73" r="1.25" fill="#D80000"/>
<circle cx="486.59" cy="353.98" r="1.25" fill="#D80000"/>
<circle cx="483.45" cy="341.08" r="1.25" fill="#D80000"/>
<circle cx="488.1" cy="340.44" r="1.25" fill="#D80000"/>
<circle cx="481.66" cy="345.71" r="1.25" fill="#D80000"/>
<line x1="535.3" y1="337" x2="535.3" y2="347.1" stroke="#2040A0" stroke-width="0.8"/>
<line x1="535.3" y1="351.4" x2="535.3" y2="353.3" stroke="#2040A0" stroke-width="0.8"/>
<rect x="518.3" y="347.1" width="34" height="4.3" fill="none" stroke="#2040A0" stroke-width="0.9"/>
<line x1="518.3" y1="349.8" x2="552.3" y2="349.8" stroke="#2040A0" stroke-width="1.4"/>
<circle cx="541.7" cy="322.8" r="1.25" fill="#0A2A90"/>
<circle cx="534.3" cy="337.8" r="1.25" fill="#0A2A90"/>
<circle cx="542.5" cy="337.3" r="1.25" fill="#0A2A90"/>
<circle cx="543.7" cy="337.3" r="1.25" fill="#0A2A90"/>
<circle cx="535.1" cy="341.6" r="1.25" fill="#0A2A90"/>
<circle cx="536.3" cy="344" r="1.25" fill="#0A2A90"/>
<circle cx="530.8" cy="343.6" r="1.25" fill="#0A2A90"/>
<circle cx="528.8" cy="346.3" r="1.25" fill="#0A2A90"/>
<circle cx="530.2" cy="353.7" r="1.25" fill="#0A2A90"/>
<circle cx="537.3" cy="353.3" r="1.25" fill="#0A2A90"/>
<circle cx="544.9" cy="353.7" r="1.25" fill="#0A2A90"/>
<circle cx="537.71" cy="347.25" r="1.25" fill="#0A2A90"/>
<circle cx="526.35" cy="352.94" r="1.25" fill="#0A2A90"/>
<circle cx="531.78" cy="353.67" r="1.25" fill="#0A2A90"/>
<circle cx="543.43" cy="349.02" r="1.25" fill="#0A2A90"/>
<circle cx="534.71" cy="350.16" r="1.25" fill="#0A2A90"/>
<circle cx="538.38" cy="350.77" r="1.25" fill="#0A2A90"/>
<circle cx="536.69" cy="350.96" r="1.25" fill="#0A2A90"/>
<circle cx="544.31" cy="350.06" r="1.25" fill="#0A2A90"/>
<circle cx="534.12" cy="351.76" r="1.25" fill="#0A2A90"/>
<circle cx="530.25" cy="348.41" r="1.25" fill="#0A2A90"/>
<circle cx="545.06" cy="350.17" r="1.25" fill="#0A2A90"/>
<circle cx="536.47" cy="346.09" r="1.25" fill="#0A2A90"/>
<circle cx="533.8" cy="350.64" r="1.25" fill="#0A2A90"/>
<circle cx="525.9" cy="350.93" r="1.25" fill="#0A2A90"/>
<circle cx="538.14" cy="346.48" r="1.25" fill="#0A2A90"/>
<circle cx="538.05" cy="349.73" r="1.25" fill="#0A2A90"/>
<circle cx="539.09" cy="348.82" r="1.25" fill="#0A2A90"/>
<circle cx="539.64" cy="351.9" r="1.25" fill="#0A2A90"/>
<circle cx="525.94" cy="346.48" r="1.25" fill="#0A2A90"/>
<circle cx="539.02" cy="353.71" r="1.25" fill="#0A2A90"/>
<circle cx="530.52" cy="349.65" r="1.25" fill="#0A2A90"/>
<circle cx="537.35" cy="348.56" r="1.25" fill="#0A2A90"/>
<circle cx="532.78" cy="348.5" r="1.25" fill="#0A2A90"/>
<circle cx="532.88" cy="350.76" r="1.25" fill="#0A2A90"/>
<circle cx="531.51" cy="349.02" r="1.25" fill="#0A2A90"/>
<circle cx="540.95" cy="346.22" r="1.25" fill="#0A2A90"/>
<circle cx="536.89" cy="351.88" r="1.25" fill="#0A2A90"/>
<circle cx="531.7" cy="347.78" r="1.25" fill="#0A2A90"/>
<circle cx="541.58" cy="347.91" r="1.25" fill="#0A2A90"/>
<circle cx="529.25" cy="349.48" r="1.25" fill="#0A2A90"/>
<rect x="458.5" y="207.5" width="105.9" height="152.4" fill="none" stroke="#A0A0A0" stroke-width="1"/>
<circle cx="487" cy="210.8" r="1.05" fill="#3a3a3a"/>
<circle cx="490" cy="210.8" r="1.05" fill="#3a3a3a"/>
<line x1="580.8" y1="279.1" x2="580.8" y2="288.3" stroke="#E04848" stroke-width="0.7"/>
<rect x="576.1" y="280.3" width="9.4" height="6.6" fill="#FFFFFF" stroke="#E04848" stroke-width="0.8"/>
<line x1="576.1" y1="283.6" x2="585.5" y2="283.6" stroke="#E04848" stroke-width="0.8"/>
<circle cx="580.8" cy="283.6" r="1.2" fill="#C80000"/>
<text x="588.5" y="286.23" font-size="7.3" font-weight="normal" text-anchor="start" fill="#111">Tumor</text>
<line x1="580.8" y1="290.8" x2="580.8" y2="300" stroke="#3050B0" stroke-width="0.7"/>
<rect x="576.1" y="292" width="9.4" height="6.6" fill="#FFFFFF" stroke="#3050B0" stroke-width="0.8"/>
<line x1="576.1" y1="295.3" x2="585.5" y2="295.3" stroke="#3050B0" stroke-width="0.8"/>
<circle cx="580.8" cy="295.3" r="1.2" fill="#0A2A90"/>
<text x="588.5" y="298.03" font-size="7.3" font-weight="normal" text-anchor="start" fill="#111">Normal</text>
<text x="11.2" y="402.6" font-size="16.8" font-weight="bold" fill="#000">E</text>
<rect x="62.1" y="435.59" width="20.8" height="93.01" fill="#FF7F7F" stroke="#111" stroke-width="1.3"/>
<rect x="94.3" y="473.98" width="20.8" height="54.62" fill="#FF7F7F" stroke="#111" stroke-width="1.3"/>
<rect x="126.6" y="517.39" width="20.8" height="11.21" fill="#FF7F7F" stroke="#111" stroke-width="1.3"/>
<rect x="158.7" y="521.68" width="20.8" height="6.92" fill="#FF7F7F" stroke="#111" stroke-width="1.3"/>
<rect x="190.9" y="526.57" width="20.8" height="2.03" fill="#FF7F7F" stroke="#111" stroke-width="1.3"/>
<line x1="72.5" y1="418.65" x2="72.5" y2="451.33" stroke="#111" stroke-width="1.2"/>
<line x1="67.2" y1="418.65" x2="77.8" y2="418.65" stroke="#111" stroke-width="1.2"/>
<line x1="67.2" y1="451.33" x2="77.8" y2="451.33" stroke="#111" stroke-width="1.2"/>
<circle cx="72.5" cy="418.65" r="1.6" fill="#111"/>
<circle cx="72.5" cy="435.82" r="1.6" fill="#111"/>
<circle cx="72.5" cy="451.56" r="1.6" fill="#111"/>
<line x1="72.5" y1="528.6" x2="72.5" y2="532.8" stroke="#111" stroke-width="1.2"/>
<line x1="104.7" y1="463.73" x2="104.7" y2="482.57" stroke="#111" stroke-width="1.2"/>
<line x1="99.4" y1="463.73" x2="110" y2="463.73" stroke="#111" stroke-width="1.2"/>
<line x1="99.4" y1="482.57" x2="110" y2="482.57" stroke="#111" stroke-width="1.2"/>
<circle cx="101.1" cy="466.35" r="1.6" fill="#111"/>
<circle cx="108.1" cy="468.5" r="1.6" fill="#111"/>
<circle cx="104.4" cy="483.29" r="1.6" fill="#111"/>
<line x1="104.7" y1="528.6" x2="104.7" y2="532.8" stroke="#111" stroke-width="1.2"/>
<line x1="137" y1="515.72" x2="137" y2="518.34" stroke="#111" stroke-width="1.2"/>
<line x1="131.7" y1="515.72" x2="142.3" y2="515.72" stroke="#111" stroke-width="1.2"/>
<line x1="131.7" y1="518.34" x2="142.3" y2="518.34" stroke="#111" stroke-width="1.2"/>
<circle cx="133" cy="518.11" r="1.6" fill="#111"/>
<circle cx="137" cy="515.96" r="1.6" fill="#111"/>
<circle cx="141" cy="517.63" r="1.6" fill="#111"/>
<line x1="137" y1="528.6" x2="137" y2="532.8" stroke="#111" stroke-width="1.2"/>
<line x1="169.1" y1="519.78" x2="169.1" y2="522.88" stroke="#111" stroke-width="1.2"/>
<line x1="163.8" y1="519.78" x2="174.4" y2="519.78" stroke="#111" stroke-width="1.2"/>
<line x1="163.8" y1="522.88" x2="174.4" y2="522.88" stroke="#111" stroke-width="1.2"/>
<circle cx="166.1" cy="520.25" r="1.6" fill="#111"/>
<circle cx="169.1" cy="523.11" r="1.6" fill="#111"/>
<circle cx="172.1" cy="520.73" r="1.6" fill="#111"/>
<line x1="169.1" y1="528.6" x2="169.1" y2="532.8" stroke="#111" stroke-width="1.2"/>
<line x1="201.3" y1="525.98" x2="201.3" y2="526.93" stroke="#111" stroke-width="1.2"/>
<line x1="196" y1="525.98" x2="206.6" y2="525.98" stroke="#111" stroke-width="1.2"/>
<line x1="196" y1="526.93" x2="206.6" y2="526.93" stroke="#111" stroke-width="1.2"/>
<circle cx="196.8" cy="526.45" r="1.6" fill="#111"/>
<circle cx="201.3" cy="525.98" r="1.6" fill="#111"/>
<circle cx="205.8" cy="526.69" r="1.6" fill="#111"/>
<line x1="201.3" y1="528.6" x2="201.3" y2="532.8" stroke="#111" stroke-width="1.2"/>
<line x1="51.2" y1="413.4" x2="51.2" y2="529.2" stroke="#111" stroke-width="1.3"/>
<line x1="48" y1="528.6" x2="223.2" y2="528.6" stroke="#111" stroke-width="1.3"/>
<line x1="47.2" y1="528.6" x2="51.2" y2="528.6" stroke="#111" stroke-width="1.2"/>
<text x="45.6" y="531.34" font-size="7.6" font-weight="bold" text-anchor="end" fill="#111">0</text>
<line x1="47.2" y1="504.75" x2="51.2" y2="504.75" stroke="#111" stroke-width="1.2"/>
<text x="45.6" y="507.49" font-size="7.6" font-weight="bold" text-anchor="end" fill="#111">10</text>
<line x1="47.2" y1="480.9" x2="51.2" y2="480.9" stroke="#111" stroke-width="1.2"/>
<text x="45.6" y="483.64" font-size="7.6" font-weight="bold" text-anchor="end" fill="#111">20</text>
<line x1="47.2" y1="457.05" x2="51.2" y2="457.05" stroke="#111" stroke-width="1.2"/>
<text x="45.6" y="459.79" font-size="7.6" font-weight="bold" text-anchor="end" fill="#111">30</text>
<line x1="47.2" y1="433.2" x2="51.2" y2="433.2" stroke="#111" stroke-width="1.2"/>
<text x="45.6" y="435.94" font-size="7.6" font-weight="bold" text-anchor="end" fill="#111">40</text>
<text x="73.7" y="540.86" font-size="8.5" font-weight="normal" text-anchor="middle" fill="#222">UMUC3</text>
<text x="104.5" y="540.86" font-size="8.5" font-weight="normal" text-anchor="middle" fill="#222">T24</text>
<text x="136.5" y="540.86" font-size="8.5" font-weight="normal" text-anchor="middle" fill="#222">SW780</text>
<text x="169" y="540.86" font-size="8.5" font-weight="normal" text-anchor="middle" fill="#222">J82</text>
<text x="204" y="540.86" font-size="8.5" font-weight="normal" text-anchor="middle" fill="#222">SV-HUC-1</text>
<text x="28.4" y="473.89" font-size="7.75" font-weight="normal" text-anchor="middle" fill="#222" transform="rotate(-90 28.4 471.1)">Relative expression of SCARNA12</text>
<line x1="73.1" y1="413" x2="201.5" y2="413" stroke="#000" stroke-width="1.8"/>
<polygon points="132.85,407.55 133.42,408.52 134.51,408.76 133.77,409.6 133.88,410.72 132.85,410.26 131.82,410.72 131.93,409.6 131.19,408.76 132.28,408.52" fill="#111"/>
<polygon points="137.2,407.55 137.77,408.52 138.86,408.76 138.12,409.6 138.23,410.72 137.2,410.26 136.17,410.72 136.28,409.6 135.54,408.76 136.63,408.52" fill="#111"/>
<polygon points="141.55,407.55 142.12,408.52 143.21,408.76 142.47,409.6 142.58,410.72 141.55,410.26 140.52,410.72 140.63,409.6 139.89,408.76 140.98,408.52" fill="#111"/>
<line x1="105.3" y1="424.6" x2="201.5" y2="424.6" stroke="#000" stroke-width="1.8"/>
<polygon points="146.65,418.25 147.22,419.22 148.31,419.46 147.57,420.3 147.68,421.42 146.65,420.96 145.62,421.42 145.73,420.3 144.99,419.46 146.08,419.22" fill="#111"/>
<polygon points="151,418.25 151.57,419.22 152.66,419.46 151.92,420.3 152.03,421.42 151,420.96 149.97,421.42 150.08,420.3 149.34,419.46 150.43,419.22" fill="#111"/>
<polygon points="155.35,418.25 155.92,419.22 157.01,419.46 156.27,420.3 156.38,421.42 155.35,420.96 154.32,421.42 154.43,420.3 153.69,419.46 154.78,419.22" fill="#111"/>
<line x1="137.8" y1="436" x2="201.5" y2="436" stroke="#000" stroke-width="1.8"/>
<polygon points="160.95,429.65 161.52,430.62 162.61,430.86 161.87,431.7 161.98,432.82 160.95,432.36 159.92,432.82 160.03,431.7 159.29,430.86 160.38,430.62" fill="#111"/>
<polygon points="165.3,429.65 165.87,430.62 166.96,430.86 166.22,431.7 166.33,432.82 165.3,432.36 164.27,432.82 164.38,431.7 163.64,430.86 164.73,430.62" fill="#111"/>
<polygon points="169.65,429.65 170.22,430.62 171.31,430.86 170.57,431.7 170.68,432.82 169.65,432.36 168.62,432.82 168.73,431.7 167.99,430.86 169.08,430.62" fill="#111"/>
<line x1="168.9" y1="447" x2="201.5" y2="447" stroke="#000" stroke-width="1.8"/>
<polygon points="179.85,441.25 180.42,442.22 181.51,442.46 180.77,443.3 180.88,444.42 179.85,443.96 178.82,444.42 178.93,443.3 178.19,442.46 179.28,442.22" fill="#111"/>
<polygon points="184.2,441.25 184.77,442.22 185.86,442.46 185.12,443.3 185.23,444.42 184.2,443.96 183.17,444.42 183.28,443.3 182.54,442.46 183.63,442.22" fill="#111"/>
<polygon points="188.55,441.25 189.12,442.22 190.21,442.46 189.47,443.3 189.58,444.42 188.55,443.96 187.52,444.42 187.63,443.3 186.89,442.46 187.98,442.22" fill="#111"/>
<text x="221.1" y="402.7" font-size="16.8" font-weight="bold" fill="#000">F</text>
<path d="M302.9,428.6 C302.83,429 302.77,429.6 302.5,431 C302.23,432.4 301.55,435 301.3,437 C301.05,439 300.98,441 301,443 C301.02,445 300.85,446.83 301.4,449 C301.95,451.17 303.58,453.67 304.3,456 C305.02,458.33 305.35,460.67 305.7,463 C306.05,465.33 306.28,466.5 306.4,470 C306.52,473.5 306.43,480.08 306.4,484 C306.37,487.92 305.85,490.35 306.2,493.5 C306.55,496.65 307.18,500.25 308.5,502.9 C309.82,505.55 312.62,507.38 314.1,509.4 C315.58,511.42 316.62,513.27 317.4,515 C318.18,516.73 318.95,518.22 318.8,519.8 C318.65,521.38 317.52,523.1 316.5,524.5 C315.48,525.9 313.7,527.38 312.7,528.2 C311.7,529.02 310.87,529.2 310.5,529.4 L290.5,529.4 C290.13,529.2 289.3,529.02 288.3,528.2 C287.3,527.38 285.52,525.9 284.5,524.5 C283.48,523.1 282.35,521.38 282.2,519.8 C282.05,518.22 282.82,516.73 283.6,515 C284.38,513.27 285.42,511.42 286.9,509.4 C288.38,507.38 291.18,505.55 292.5,502.9 C293.82,500.25 294.45,496.65 294.8,493.5 C295.15,490.35 294.63,487.92 294.6,484 C294.57,480.08 294.48,473.5 294.6,470 C294.72,466.5 294.95,465.33 295.3,463 C295.65,460.67 295.98,458.33 296.7,456 C297.42,453.67 299.05,451.17 299.6,449 C300.15,446.83 299.98,445 300,443 C300.02,441 299.95,439 299.7,437 C299.45,435 298.77,432.4 298.5,431 C298.23,429.6 298.17,429 298.1,428.6 Z" fill="#F88787" stroke="#000" stroke-width="1.9" stroke-linejoin="round"/>
<line x1="295.4" y1="484" x2="305.6" y2="484" stroke="#5a1010" stroke-width="0.9" stroke-dasharray="1.6,1.2"/>
<line x1="284.9" y1="513.2" x2="316.1" y2="513.2" stroke="#5a1010" stroke-width="0.9" stroke-dasharray="1.6,1.2"/>
<line x1="283.3" y1="521.5" x2="317.7" y2="521.5" stroke="#5a1010" stroke-width="0.9" stroke-dasharray="1.6,1.2"/>
<circle cx="300.5" cy="458.2" r="1.25" fill="#FFE8E0"/>
<circle cx="298.3" cy="465.9" r="1.25" fill="#FFE8E0"/>
<circle cx="302.7" cy="465.9" r="1.25" fill="#FFE8E0"/>
<circle cx="300.1" cy="476.8" r="1.25" fill="#FFE8E0"/>
<circle cx="300.5" cy="484.5" r="1.25" fill="#FFE8E0"/>
<circle cx="304.9" cy="483.4" r="1.25" fill="#FFE8E0"/>
<circle cx="300.1" cy="495.5" r="1.25" fill="#FFE8E0"/>
<circle cx="300.5" cy="501.6" r="1.25" fill="#FFE8E0"/>
<circle cx="300.5" cy="504" r="1.25" fill="#FFE8E0"/>
<circle cx="295.7" cy="513" r="1.25" fill="#FFE8E0"/>
<circle cx="300.5" cy="512.6" r="1.25" fill="#FFE8E0"/>
<circle cx="304.9" cy="513" r="1.25" fill="#FFE8E0"/>
<circle cx="290.7" cy="518" r="1.25" fill="#FFE8E0"/>
<circle cx="296.1" cy="518.5" r="1.25" fill="#FFE8E0"/>
<circle cx="300.5" cy="517.4" r="1.25" fill="#FFE8E0"/>
<circle cx="304.9" cy="519" r="1.25" fill="#FFE8E0"/>
<circle cx="310" cy="518" r="1.25" fill="#FFE8E0"/>
<circle cx="295.7" cy="524" r="1.25" fill="#FFE8E0"/>
<circle cx="300.5" cy="523" r="1.25" fill="#FFE8E0"/>
<circle cx="304.9" cy="524.5" r="1.25" fill="#FFE8E0"/>
<circle cx="295.7" cy="528.3" r="1.25" fill="#FFE8E0"/>
<circle cx="300.5" cy="528.3" r="1.25" fill="#FFE8E0"/>
<circle cx="304.9" cy="527.2" r="1.25" fill="#FFE8E0"/>
<circle cx="300.5" cy="430" r="1.25" fill="#FFE8E0"/>
<path d="M361.6,501.7 C361.58,501.92 361.48,502.23 361.5,503 C361.52,503.77 360.98,505.33 361.7,506.3 C362.42,507.27 363.9,507.95 365.8,508.8 C367.7,509.65 372.55,510.6 373.1,511.4 C373.65,512.2 370,512.92 369.1,513.6 C368.2,514.28 368.23,514.93 367.7,515.5 C367.17,516.07 366,516.48 365.9,517 C365.8,517.52 367,517.97 367.1,518.6 C367.2,519.23 366.7,520.13 366.5,520.8 C366.3,521.47 366.2,522.12 365.9,522.6 C365.6,523.08 364.9,523.52 364.7,523.7 L345.9,523.7 C345.7,523.52 345,523.08 344.7,522.6 C344.4,522.12 344.3,521.47 344.1,520.8 C343.9,520.13 343.4,519.23 343.5,518.6 C343.6,517.97 344.8,517.52 344.7,517 C344.6,516.48 343.43,516.07 342.9,515.5 C342.37,514.93 342.4,514.28 341.5,513.6 C340.6,512.92 336.95,512.2 337.5,511.4 C338.05,510.6 342.9,509.65 344.8,508.8 C346.7,507.95 348.18,507.27 348.9,506.3 C349.62,505.33 349.08,503.77 349.1,503 C349.12,502.23 349.02,501.92 349,501.7 Z" fill="#1E8FE6" stroke="#000" stroke-width="1.9" stroke-linejoin="round"/>
<line x1="343.3" y1="508.6" x2="367.3" y2="508.6" stroke="#0a3a80" stroke-width="0.6" stroke-dasharray="1.4,1.2"/>
<line x1="340.3" y1="512.3" x2="370.3" y2="512.3" stroke="#0a3a80" stroke-width="0.6" stroke-dasharray="1.4,1.2"/>
<line x1="345.3" y1="517.5" x2="365.3" y2="517.5" stroke="#0a3a80" stroke-width="0.6" stroke-dasharray="1.4,1.2"/>
<path d="M355.3,501.4 l1.3,2.2 h-2.6 z" fill="#FFFFFF"/>
<path d="M355.3,505.4 l1.3,2.2 h-2.6 z" fill="#FFFFFF"/>
<path d="M352.8,509.9 l1.3,2.2 h-2.6 z" fill="#FFFFFF"/>
<path d="M357.3,510.4 l1.3,2.2 h-2.6 z" fill="#FFFFFF"/>
<path d="M361.3,510.1 l1.3,2.2 h-2.6 z" fill="#FFFFFF"/>
<path d="M352.8,512.9 l1.3,2.2 h-2.6 z" fill="#FFFFFF"/>
<path d="M355.3,514.4 l1.3,2.2 h-2.6 z" fill="#FFFFFF"/>
<path d="M349.8,516.9 l1.3,2.2 h-2.6 z" fill="#FFFFFF"/>
<path d="M357.8,516.4 l1.3,2.2 h-2.6 z" fill="#FFFFFF"/>
<path d="M352.8,518.4 l1.3,2.2 h-2.6 z" fill="#FFFFFF"/>
<path d="M355.3,521.4 l1.3,2.2 h-2.6 z" fill="#FFFFFF"/>
<path d="M357.8,521.4 l1.3,2.2 h-2.6 z" fill="#FFFFFF"/>
<line x1="264" y1="413.3" x2="264" y2="530.3" stroke="#111" stroke-width="1.2"/>
<line x1="263.4" y1="529.7" x2="392.6" y2="529.7" stroke="#111" stroke-width="1.2"/>
<line x1="259" y1="529.7" x2="264" y2="529.7" stroke="#111" stroke-width="1.2"/>
<text x="257.7" y="532.87" font-size="8.8" font-weight="bold" text-anchor="end" fill="#111">0</text>
<line x1="259" y1="490.9" x2="264" y2="490.9" stroke="#111" stroke-width="1.2"/>
<text x="257.7" y="494.07" font-size="8.8" font-weight="bold" text-anchor="end" fill="#111">2</text>
<line x1="259" y1="452.1" x2="264" y2="452.1" stroke="#111" stroke-width="1.2"/>
<text x="257.7" y="455.27" font-size="8.8" font-weight="bold" text-anchor="end" fill="#111">4</text>
<line x1="259" y1="413.3" x2="264" y2="413.3" stroke="#111" stroke-width="1.2"/>
<text x="257.7" y="416.47" font-size="8.8" font-weight="bold" text-anchor="end" fill="#111">6</text>
<line x1="300.5" y1="529.7" x2="300.5" y2="534.2" stroke="#111" stroke-width="1.2"/>
<line x1="355.3" y1="529.7" x2="355.3" y2="534.2" stroke="#111" stroke-width="1.2"/>
<text x="299.5" y="543.86" font-size="8.5" font-weight="normal" text-anchor="middle" fill="#222">Tumor tissue</text>
<text x="363" y="543.88" font-size="8.55" font-weight="normal" text-anchor="middle" fill="#222">Adjacent tissue</text>
<text x="243.9" y="473.91" font-size="7.8" font-weight="normal" text-anchor="middle" fill="#222" transform="rotate(-90 243.9 471.1)">Relative expression of SCARNA12</text>
<path d="M300.5,425 V419.9 H353.8 V425" fill="none" stroke="#111" stroke-width="1.3"/>
<polygon points="328,414.25 328.57,415.22 329.66,415.46 328.92,416.3 329.03,417.42 328,416.96 326.97,417.42 327.08,416.3 326.34,415.46 327.43,415.22" fill="#111"/>
<text x="417" y="403" font-size="16.8" font-weight="bold" fill="#000">G</text>
<rect x="441.3" y="409.5" width="147.9" height="129" fill="#FFFFFF" stroke="none" stroke-width="1"/>
<line x1="470" y1="409.5" x2="470" y2="538.5" stroke="#F3F3F3" stroke-width="0.5"/>
<line x1="515" y1="409.5" x2="515" y2="538.5" stroke="#F3F3F3" stroke-width="0.5"/>
<line x1="560" y1="409.5" x2="560" y2="538.5" stroke="#F3F3F3" stroke-width="0.5"/>
<line x1="441.3" y1="518.2" x2="589.2" y2="518.2" stroke="#F3F3F3" stroke-width="0.5"/>
<line x1="441.3" y1="488.8" x2="589.2" y2="488.8" stroke="#F3F3F3" stroke-width="0.5"/>
<line x1="441.3" y1="459.4" x2="589.2" y2="459.4" stroke="#F3F3F3" stroke-width="0.5"/>
<line x1="441.3" y1="430" x2="589.2" y2="430" stroke="#F3F3F3" stroke-width="0.5"/>
<line x1="447.5" y1="409.5" x2="447.5" y2="538.5" stroke="#EBEBEB" stroke-width="0.8"/>
<line x1="492.5" y1="409.5" x2="492.5" y2="538.5" stroke="#EBEBEB" stroke-width="0.8"/>
<line x1="537.5" y1="409.5" x2="537.5" y2="538.5" stroke="#EBEBEB" stroke-width="0.8"/>
<line x1="582.5" y1="409.5" x2="582.5" y2="538.5" stroke="#EBEBEB" stroke-width="0.8"/>
<line x1="441.3" y1="532.9" x2="589.2" y2="532.9" stroke="#EBEBEB" stroke-width="0.8"/>
<line x1="441.3" y1="503.5" x2="589.2" y2="503.5" stroke="#EBEBEB" stroke-width="0.8"/>
<line x1="441.3" y1="474.1" x2="589.2" y2="474.1" stroke="#EBEBEB" stroke-width="0.8"/>
<line x1="441.3" y1="444.7" x2="589.2" y2="444.7" stroke="#EBEBEB" stroke-width="0.8"/>
<line x1="441.3" y1="415.3" x2="589.2" y2="415.3" stroke="#EBEBEB" stroke-width="0.8"/>
<rect x="510.3" y="415.3" width="5.2" height="54.7" fill="#B6B2FF" stroke="none" stroke-width="1"/>
<rect x="515.5" y="415.3" width="55.5" height="72.9" fill="#B6B2FF" stroke="none" stroke-width="1"/>
<rect x="454.5" y="415.3" width="1.8" height="34.2" fill="#FFB0B0" stroke="none" stroke-width="1"/>
<rect x="456.3" y="415.3" width="11.3" height="53.2" fill="#FFB0B0" stroke="none" stroke-width="1"/>
<rect x="467.6" y="415.3" width="38.7" height="68.2" fill="#FFB0B0" stroke="none" stroke-width="1"/>
<rect x="506.3" y="415.3" width="19" height="80.7" fill="#FFB0B0" stroke="none" stroke-width="1"/>
<rect x="525.3" y="415.3" width="5.7" height="101" fill="#FFB0B0" stroke="none" stroke-width="1"/>
<rect x="531" y="415.3" width="14.6" height="113.2" fill="#FFB0B0" stroke="none" stroke-width="1"/>
<rect x="510.3" y="415.3" width="5.2" height="54.7" fill="#DC80B9" stroke="none" stroke-width="1"/>
<rect x="515.5" y="415.3" width="30.1" height="72.9" fill="#DC80B9" stroke="none" stroke-width="1"/>
<line x1="515" y1="409.5" x2="515" y2="532.9" stroke="#FFFFFF" stroke-width="0.5" stroke-opacity="0.25"/>
<line x1="560" y1="409.5" x2="560" y2="532.9" stroke="#FFFFFF" stroke-width="0.5" stroke-opacity="0.25"/>
<line x1="441.3" y1="459.4" x2="589.2" y2="459.4" stroke="#FFFFFF" stroke-width="0.5" stroke-opacity="0.25"/>
<line x1="441.3" y1="430" x2="589.2" y2="430" stroke="#FFFFFF" stroke-width="0.5" stroke-opacity="0.25"/>
<line x1="492.5" y1="409.5" x2="492.5" y2="532.9" stroke="#FFFFFF" stroke-width="0.8" stroke-opacity="0.3"/>
<line x1="537.5" y1="409.5" x2="537.5" y2="532.9" stroke="#FFFFFF" stroke-width="0.8" stroke-opacity="0.3"/>
<line x1="441.3" y1="474.1" x2="589.2" y2="474.1" stroke="#FFFFFF" stroke-width="0.8" stroke-opacity="0.3"/>
<line x1="441.3" y1="444.7" x2="589.2" y2="444.7" stroke="#FFFFFF" stroke-width="0.8" stroke-opacity="0.3"/>
<line x1="441.3" y1="415.3" x2="589.2" y2="415.3" stroke="#FFFFFF" stroke-width="0.8" stroke-opacity="0.3"/>
<line x1="447.5" y1="474.1" x2="571" y2="474.1" stroke="#222" stroke-width="0.9" stroke-dasharray="2.4,2.2"/>
<line x1="525.3" y1="474.1" x2="525.3" y2="532.9" stroke="#222" stroke-width="0.9" stroke-dasharray="2.6,2"/>
<path d="M447.5,415.3 H455.4 V441 H467.6 V454.6 H506.1 V467.5 H525.0 V489.1 H530.6 V510.7 H545.4 V531" fill="none" stroke="#E00000" stroke-width="1.5" stroke-dasharray="2.8,2.2"/>
<path d="M447.5,415.3 H510.3 V434.8 H515.0 V454.6 H571.2 V532.3" fill="none" stroke="#1010D8" stroke-width="1.4"/>
<line x1="458.2" y1="413.5" x2="458.2" y2="417.1" stroke="#1010D8" stroke-width="1.1"/>
<line x1="503.8" y1="413.5" x2="503.8" y2="417.1" stroke="#1010D8" stroke-width="1.1"/>
<line x1="507" y1="413.5" x2="507" y2="417.1" stroke="#1010D8" stroke-width="1.1"/>
<line x1="520.1" y1="452.8" x2="520.1" y2="456.4" stroke="#1010D8" stroke-width="1.1"/>
<line x1="527.2" y1="452.8" x2="527.2" y2="456.4" stroke="#1010D8" stroke-width="1.1"/>
<line x1="545.6" y1="452.8" x2="545.6" y2="456.4" stroke="#1010D8" stroke-width="1.1"/>
<line x1="507.5" y1="465.7" x2="507.5" y2="469.3" stroke="#E00000" stroke-width="1"/>
<line x1="510" y1="465.7" x2="510" y2="469.3" stroke="#E00000" stroke-width="1"/>
<rect x="441.3" y="409.5" width="147.9" height="129" fill="none" stroke="#A0A0A0" stroke-width="1"/>
<line x1="439.5" y1="532.9" x2="441.3" y2="532.9" stroke="#555" stroke-width="0.7"/>
<text x="438.3" y="535.06" font-size="6" font-weight="normal" text-anchor="end" fill="#555">0.00</text>
<line x1="439.5" y1="503.5" x2="441.3" y2="503.5" stroke="#555" stroke-width="0.7"/>
<text x="438.3" y="505.66" font-size="6" font-weight="normal" text-anchor="end" fill="#555">0.25</text>
<line x1="439.5" y1="474.1" x2="441.3" y2="474.1" stroke="#555" stroke-width="0.7"/>
<text x="438.3" y="476.26" font-size="6" font-weight="normal" text-anchor="end" fill="#555">0.50</text>
<line x1="439.5" y1="444.7" x2="441.3" y2="444.7" stroke="#555" stroke-width="0.7"/>
<text x="438.3" y="446.86" font-size="6" font-weight="normal" text-anchor="end" fill="#555">0.75</text>
<line x1="439.5" y1="415.3" x2="441.3" y2="415.3" stroke="#555" stroke-width="0.7"/>
<text x="438.3" y="417.46" font-size="6" font-weight="normal" text-anchor="end" fill="#555">1.00</text>
<line x1="447.5" y1="538.5" x2="447.5" y2="540.3" stroke="#555" stroke-width="0.7"/>
<text x="447.5" y="546.36" font-size="6" font-weight="normal" text-anchor="middle" fill="#555">0</text>
<line x1="492.5" y1="538.5" x2="492.5" y2="540.3" stroke="#555" stroke-width="0.7"/>
<text x="492.5" y="546.36" font-size="6" font-weight="normal" text-anchor="middle" fill="#555">1</text>
<line x1="537.5" y1="538.5" x2="537.5" y2="540.3" stroke="#555" stroke-width="0.7"/>
<text x="537.5" y="546.36" font-size="6" font-weight="normal" text-anchor="middle" fill="#555">2</text>
<line x1="582.5" y1="538.5" x2="582.5" y2="540.3" stroke="#555" stroke-width="0.7"/>
<text x="582.5" y="546.36" font-size="6" font-weight="normal" text-anchor="middle" fill="#555">3</text>
<text x="515.2" y="553.99" font-size="7.2" font-weight="normal" text-anchor="middle" fill="#222">Time</text>
<text x="421.5" y="476.68" font-size="6.9" font-weight="normal" text-anchor="middle" fill="#222" transform="rotate(-90 421.5 474.2)">Overall survival</text>
<text x="450.3" y="513.47" font-size="8.8" font-weight="normal" text-anchor="start" fill="#111">p = 0.04</text>
<rect x="491.5" y="389" width="9.9" height="9.4" fill="#B4B4FF" stroke="none" stroke-width="1"/>
<line x1="492.5" y1="393.7" x2="500.4" y2="393.7" stroke="#1010D8" stroke-width="1.2"/>
<line x1="496.4" y1="392" x2="496.4" y2="395.4" stroke="#1010D8" stroke-width="1"/>
<text x="505.2" y="396.04" font-size="5.4" font-weight="normal" text-anchor="start" fill="#333">Low</text>
<rect x="519.3" y="389" width="9.9" height="9.4" fill="#FFB0B0" stroke="none" stroke-width="1"/>
<line x1="520.3" y1="393.7" x2="528.2" y2="393.7" stroke="#E00000" stroke-width="1.2" stroke-dasharray="2,1"/>
<line x1="524.2" y1="392" x2="524.2" y2="395.4" stroke="#E00000" stroke-width="1"/>
<text x="532.9" y="396.12" font-size="5.6" font-weight="normal" text-anchor="start" fill="#333">High</text>
<rect x="421" y="567.8" width="3.4" height="12.2" fill="#000"/>
<path d="M485.3,602.3 C485.2,602.67 484.88,603.28 484.7,604.5 C484.52,605.72 483.67,608.03 484.2,609.6 C484.73,611.17 486.77,612.53 487.9,613.9 C489.03,615.27 491.08,616.5 491,617.8 C490.92,619.1 488.23,620.33 487.4,621.7 C486.57,623.07 485.62,624.72 486,626 C486.38,627.28 488.4,628.08 489.7,629.4 C491,630.72 493.88,632.47 493.8,633.9 C493.72,635.33 490.38,636.73 489.2,638 C488.02,639.27 485.87,640.2 486.7,641.5 C487.53,642.8 491.28,644.4 494.2,645.8 C497.12,647.2 504.2,648.53 504.2,649.9 C504.2,651.27 496.83,652.67 494.2,654 C491.57,655.33 488.82,656.6 488.4,657.9 C487.98,659.2 490.12,660.47 491.7,661.8 C493.28,663.13 497.98,664.53 497.9,665.9 C497.82,667.27 492.97,668.68 491.2,670 C489.43,671.32 487.6,672.52 487.3,673.8 C487,675.08 488.37,676.35 489.4,677.7 C490.43,679.05 493.78,680.55 493.5,681.9 C493.22,683.25 489.25,684.5 487.7,685.8 C486.15,687.1 484.8,688.33 484.2,689.7 C483.6,691.07 484.1,692.65 484.1,694 C484.1,695.35 484.18,697.17 484.2,697.8 L482.2,697.8 C482.22,697.17 482.3,695.35 482.3,694 C482.3,692.65 482.8,691.07 482.2,689.7 C481.6,688.33 480.25,687.1 478.7,685.8 C477.15,684.5 473.18,683.25 472.9,681.9 C472.62,680.55 475.97,679.05 477,677.7 C478.03,676.35 479.4,675.08 479.1,673.8 C478.8,672.52 476.97,671.32 475.2,670 C473.43,668.68 468.58,667.27 468.5,665.9 C468.42,664.53 473.12,663.13 474.7,661.8 C476.28,660.47 478.42,659.2 478,657.9 C477.58,656.6 474.83,655.33 472.2,654 C469.57,652.67 462.2,651.27 462.2,649.9 C462.2,648.53 469.28,647.2 472.2,645.8 C475.12,644.4 478.87,642.8 479.7,641.5 C480.53,640.2 478.38,639.27 477.2,638 C476.02,636.73 472.68,635.33 472.6,633.9 C472.52,632.47 475.4,630.72 476.7,629.4 C478,628.08 480.02,627.28 480.4,626 C480.78,624.72 479.83,623.07 479,621.7 C478.17,620.33 475.48,619.1 475.4,617.8 C475.32,616.5 477.37,615.27 478.5,613.9 C479.63,612.53 481.67,611.17 482.2,609.6 C482.73,608.03 481.88,605.72 481.7,604.5 C481.52,603.28 481.2,602.67 481.1,602.3 Z" fill="#F88080" stroke="#000" stroke-width="1.9" stroke-linejoin="round"/>
<line x1="475.6" y1="617.9" x2="490.8" y2="617.9" stroke="#FFE0D0" stroke-width="1.1"/>
<line x1="472.8" y1="633.8" x2="493.6" y2="633.8" stroke="#FFE0D0" stroke-width="1.1"/>
<line x1="462.4" y1="649.7" x2="504" y2="649.7" stroke="#FFE0D0" stroke-width="1.1"/>
<line x1="468.7" y1="665.6" x2="497.7" y2="665.6" stroke="#FFE0D0" stroke-width="1.1"/>
<line x1="473.1" y1="681.5" x2="493.3" y2="681.5" stroke="#FFE0D0" stroke-width="1.1"/>
<path d="M548.9,617.5 C548.87,618.75 548.62,622.23 548.7,625 C548.78,627.77 549.45,631.33 549.4,634.1 C549.35,636.87 548.47,638.97 548.4,641.6 C548.33,644.23 548.97,647.67 549,649.9 C549.03,652.13 548.37,653.52 548.6,655 C548.83,656.48 549.77,657.53 550.4,658.8 C551.03,660.07 552,661.42 552.4,662.6 C552.8,663.78 552.88,664.92 552.8,665.9 C552.72,666.88 552.33,667.65 551.9,668.5 C551.47,669.35 549.7,669.97 550.2,671 C550.7,672.03 552.95,673.45 554.9,674.7 C556.85,675.95 559.63,677.3 561.9,678.5 C564.17,679.7 568.67,680.82 568.5,681.9 C568.33,682.98 563.17,684.02 560.9,685 C558.63,685.98 556.65,686.7 554.9,687.8 C553.15,688.9 550.82,690.48 550.4,691.6 C549.98,692.72 551.93,693.5 552.4,694.5 C552.87,695.5 553.37,696.6 553.2,697.6 C553.03,698.6 552.03,699.47 551.4,700.5 C550.77,701.53 549.9,702.55 549.4,703.8 C548.9,705.05 548.57,706.47 548.4,708 C548.23,709.53 548.4,712.17 548.4,713 L546.4,713 C546.4,712.17 546.57,709.53 546.4,708 C546.23,706.47 545.9,705.05 545.4,703.8 C544.9,702.55 544.03,701.53 543.4,700.5 C542.77,699.47 541.77,698.6 541.6,697.6 C541.43,696.6 541.93,695.5 542.4,694.5 C542.87,693.5 544.82,692.72 544.4,691.6 C543.98,690.48 541.65,688.9 539.9,687.8 C538.15,686.7 536.17,685.98 533.9,685 C531.63,684.02 526.47,682.98 526.3,681.9 C526.13,680.82 530.63,679.7 532.9,678.5 C535.17,677.3 537.95,675.95 539.9,674.7 C541.85,673.45 544.1,672.03 544.6,671 C545.1,669.97 543.33,669.35 542.9,668.5 C542.47,667.65 542.08,666.88 542,665.9 C541.92,664.92 542,663.78 542.4,662.6 C542.8,661.42 543.77,660.07 544.4,658.8 C545.03,657.53 545.97,656.48 546.2,655 C546.43,653.52 545.77,652.13 545.8,649.9 C545.83,647.67 546.47,644.23 546.4,641.6 C546.33,638.97 545.45,636.87 545.4,634.1 C545.35,631.33 546.02,627.77 546.1,625 C546.18,622.23 545.93,618.75 545.9,617.5 Z" fill="#1E8FE6" stroke="#000" stroke-width="1.9" stroke-linejoin="round"/>
<line x1="546.4" y1="633.8" x2="548.4" y2="633.8" stroke="#E8F4FF" stroke-width="1.1"/>
<line x1="546.6" y1="649.7" x2="548.2" y2="649.7" stroke="#E8F4FF" stroke-width="1.1"/>
<line x1="542.8" y1="665.6" x2="552" y2="665.6" stroke="#E8F4FF" stroke-width="1.1"/>
<line x1="526.6" y1="681.5" x2="568.2" y2="681.5" stroke="#E8F4FF" stroke-width="1.1"/>
<line x1="542" y1="697.4" x2="552.8" y2="697.4" stroke="#E8F4FF" stroke-width="1.1"/>
<line x1="440.2" y1="586" x2="440.2" y2="713.7" stroke="#111" stroke-width="1.3"/>
<line x1="439.6" y1="713.1" x2="590.8" y2="713.1" stroke="#111" stroke-width="1.3"/>
<line x1="434.7" y1="713.3" x2="440.2" y2="713.3" stroke="#111" stroke-width="1.2"/>
<text x="433.8" y="716.68" font-size="9.4" font-weight="bold" text-anchor="end" fill="#111">0</text>
<line x1="434.7" y1="681.5" x2="440.2" y2="681.5" stroke="#111" stroke-width="1.2"/>
<text x="433.8" y="684.88" font-size="9.4" font-weight="bold" text-anchor="end" fill="#111">2</text>
<line x1="434.7" y1="649.7" x2="440.2" y2="649.7" stroke="#111" stroke-width="1.2"/>
<text x="433.8" y="653.08" font-size="9.4" font-weight="bold" text-anchor="end" fill="#111">4</text>
<line x1="434.7" y1="617.9" x2="440.2" y2="617.9" stroke="#111" stroke-width="1.2"/>
<text x="433.8" y="621.28" font-size="9.4" font-weight="bold" text-anchor="end" fill="#111">6</text>
<line x1="434.7" y1="586.1" x2="440.2" y2="586.1" stroke="#111" stroke-width="1.2"/>
<text x="433.8" y="589.48" font-size="9.4" font-weight="bold" text-anchor="end" fill="#111">8</text>
<line x1="483.2" y1="713.1" x2="483.2" y2="718" stroke="#111" stroke-width="1.2"/>
<line x1="547.4" y1="713.1" x2="547.4" y2="718" stroke="#111" stroke-width="1.2"/>
<text x="481.7" y="728.15" font-size="9.3" font-weight="normal" text-anchor="middle" fill="#222">Tumor tissue</text>
<text x="548" y="728.22" font-size="9.5" font-weight="normal" text-anchor="middle" fill="#222">Adjacent tissue</text>
<text x="419.6" y="652.75" font-size="8.75" font-weight="normal" text-anchor="middle" fill="#222" transform="rotate(-90 419.6 649.6)">ISH score of SCARNA12</text>
<path d="M481.6,596.4 V590.5 H546.3 V596.4" fill="none" stroke="#111" stroke-width="1.4"/>
<polygon points="509.65,584.35 510.22,585.32 511.31,585.56 510.57,586.4 510.68,587.52 509.65,587.06 508.62,587.52 508.73,586.4 507.99,585.56 509.08,585.32" fill="#111"/>
<polygon points="514,584.35 514.57,585.32 515.66,585.56 514.92,586.4 515.03,587.52 514,587.06 512.97,587.52 513.08,586.4 512.34,585.56 513.43,585.32" fill="#111"/>
<polygon points="518.35,584.35 518.92,585.32 520.01,585.56 519.27,586.4 519.38,587.52 518.35,587.06 517.32,587.52 517.43,586.4 516.69,585.56 517.78,585.32" fill="#111"/>
<text x="12.3" y="580.3" font-size="16.8" font-weight="bold" fill="#000">H</text>
<text x="122.7" y="583.38" font-size="9.4" font-weight="bold" text-anchor="middle" fill="#000">Tumor tissue</text>
<text x="302.7" y="583.38" font-size="9.4" font-weight="bold" text-anchor="middle" fill="#000">Adjacent tissue</text>
<defs><filter id="bl3" x="-20%" y="-20%" width="140%" height="140%"><feGaussianBlur stdDeviation="3"/></filter><filter id="bl5" x="-30%" y="-30%" width="160%" height="160%"><feGaussianBlur stdDeviation="5"/></filter><filter id="bl1" x="-20%" y="-20%" width="140%" height="140%"><feGaussianBlur stdDeviation="1.2"/></filter><filter id="bl05"><feGaussianBlur stdDeviation="0.45"/></filter><filter id="n1" x="0" y="0" width="1" height="1" color-interpolation-filters="sRGB"><feTurbulence type="fractalNoise" baseFrequency="0.32" numOctaves="2" seed="4"/><feColorMatrix type="matrix" values="0 0 0 0 0.3 0 0 0 0 0.25 0 0 0 0 0.55 3.8 0 0 0 -1.85"/><feGaussianBlur stdDeviation="0.45"/></filter><filter id="n1w" x="0" y="0" width="1" height="1" color-interpolation-filters="sRGB"><feTurbulence type="fractalNoise" baseFrequency="0.25" numOctaves="1" seed="9"/><feColorMatrix type="matrix" values="0 0 0 0 1 0 0 0 0 0.98 0 0 0 0 0.96 6 0 0 0 -4"/><feGaussianBlur stdDeviation="0.5"/></filter><filter id="n1i" x="0" y="0" width="1" height="1" color-interpolation-filters="sRGB"><feTurbulence type="fractalNoise" baseFrequency="0.2 0.42" numOctaves="2" seed="6"/><feColorMatrix type="matrix" values="0 0 0 0 0.36 0 0 0 0 0.27 0 0 0 0 0.51 3.8 0 0 0 -1.78"/><feGaussianBlur stdDeviation="0.45"/></filter><filter id="n2" x="0" y="0" width="1" height="1" color-interpolation-filters="sRGB"><feTurbulence type="fractalNoise" baseFrequency="0.4" numOctaves="1" seed="12"/><feColorMatrix type="matrix" values="0 0 0 0 0.31 0 0 0 0 0.27 0 0 0 0 0.58 4.4 0 0 0 -2.15"/><feGaussianBlur stdDeviation="0.4"/></filter><clipPath id="c1"><rect x="34.2" y="586.5" width="176.4" height="132.2"/></clipPath><clipPath id="c1i"><rect x="144.6" y="586.5" width="66" height="66.2"/></clipPath><clipPath id="c2"><rect x="214.2" y="586.6" width="176.2" height="131.9"/></clipPath><clipPath id="c2i"><rect x="324.1" y="586.6" width="66.2" height="66"/></clipPath><mask id="m1" maskUnits="userSpaceOnUse" x="34" y="586" width="177" height="133"><rect x="34" y="586" width="177" height="133" fill="#fff"/><g filter="url(#bl5)" fill="#8a8a8a"><path d="M56,614 C60.17,610 68.83,608.17 75,608 C81.17,607.83 88.83,608.5 93,613 C97.17,617.5 97.5,626.33 100,635 C102.5,643.67 105.83,655 108,665 C110.17,675 112.67,686 113,695 C113.33,704 119.67,715 110,719 C100.33,723 65.33,723.83 55,719 C44.67,714.17 49.17,700.67 48,690 C46.83,679.33 47.67,664.67 48,655 C48.33,645.33 48.67,638.83 50,632 C51.33,625.17 51.83,618 56,614Z"/><path d="M105,586 C111.5,580.33 138.33,576.67 145,586 C151.67,595.33 147.5,631.67 145,642 C142.5,652.33 135.5,647.67 130,648 C124.5,648.33 116,648.67 112,644 C108,639.33 107.17,629.67 106,620 C104.83,610.33 98.5,591.67 105,586Z"/><path d="M150,664 C154,658.67 163.33,658.33 170,658 C176.67,657.67 185.17,658.33 190,662 C194.83,665.67 197.83,670.5 199,680 C200.17,689.5 205.17,712.5 197,719 C188.83,725.5 158.5,723.83 150,719 C141.5,714.17 146,699.17 146,690 C146,680.83 146,669.33 150,664Z"/><path d="M40,586 C43.67,583.67 58,584 62,586 C66,588 66,594.67 64,598 C62,601.33 54,605.67 50,606 C46,606.33 41.67,603.33 40,600 C38.33,596.67 36.33,588.33 40,586Z"/></g></mask><mask id="m2" maskUnits="userSpaceOnUse" x="214" y="586" width="177" height="133"><rect x="214" y="586" width="177" height="133" fill="#2a2a2a"/><g filter="url(#bl1)" fill="#fff"><path d="M249.56,599.96 C252.38,597.77 260.83,597.93 266.46,599.02 C272.09,600.12 280.08,604.03 283.36,606.54 C286.65,609.04 286.8,612.01 286.18,614.05 C285.55,616.08 282.27,617.33 279.61,618.74 C276.95,620.15 273.97,622.34 270.22,622.5 C266.46,622.65 260.51,621.4 257.07,619.68 C253.63,617.96 250.81,615.46 249.56,612.17 C248.31,608.88 246.74,602.15 249.56,599.96Z"/><path d="M213.88,619.68 C218.26,614.36 233.28,618.43 240.17,617.8 C247.05,617.18 250.5,615.14 255.19,615.92 C259.89,616.71 262.39,621.25 268.34,622.5 C274.28,623.75 284.93,622.03 290.87,623.44 C296.82,624.85 300.58,627.51 304.02,630.95 C307.46,634.39 310.59,639.71 311.53,644.09 C312.47,648.48 311.53,654.42 309.65,657.24 C307.77,660.06 303.39,660.06 300.26,661 C297.13,661.93 294,663.19 290.87,662.87 C287.74,662.56 284.61,659.12 281.48,659.12 C278.35,659.12 274.28,661.62 272.09,662.87 C269.9,664.13 270.53,665.06 268.34,666.63 C266.15,668.19 263.33,671.32 258.95,672.26 C254.57,673.2 246.12,674.45 242.05,672.26 C237.98,670.07 237.67,661.93 234.54,659.12 C231.41,656.3 226.71,656.93 223.27,655.36 C219.82,653.8 215.44,655.67 213.88,649.73 C212.31,643.78 209.5,625 213.88,619.68Z"/><path d="M300,662 C304.17,659.83 317.33,658.67 325,659 C332.67,659.33 340.83,661.83 346,664 C351.17,666.17 350.33,670.5 356,672 C361.67,673.5 374,673 380,673 C386,673 390,667.67 392,672 C394,676.33 395.67,694.67 392,699 C388.33,703.33 377.83,698.83 370,698 C362.17,697.17 351.67,696.17 345,694 C338.33,691.83 335.83,688 330,685 C324.17,682 315,678.17 310,676 C305,673.83 301.67,674.33 300,672 C298.33,669.67 295.83,664.17 300,662Z"/></g><g fill="#2a2a2a"><path d="M244,658 C245.17,655.5 251.83,648.67 255,646 C258.17,643.33 261,641 263,642 C265,643 266.67,649 267,652 C267.33,655 268.17,658.5 265,660 C261.83,661.5 251.5,661.33 248,661 C244.5,660.67 242.83,660.5 244,658Z"/><path d="M344.5,685 C345.5,683 348.42,679.83 352,679 C355.58,678.17 363.17,678.5 366,680 C368.83,681.5 370.33,686 369,688 C367.67,690 361.83,691.5 358,692 C354.17,692.5 348.25,692.17 346,691 C343.75,689.83 343.5,687 344.5,685Z"/></g></mask><mask id="m2i" maskUnits="userSpaceOnUse" x="324" y="586" width="67" height="67"><rect x="324" y="586" width="67" height="67" fill="#fff"/><g filter="url(#bl3)" fill="#333"><path d="M350,586 C354.33,584 384.17,581.67 391,586 C397.83,590.33 392.83,608.83 391,612 C389.17,615.17 384.33,607.33 380,605 C375.67,602.67 370,601.17 365,598 C360,594.83 345.67,588 350,586Z"/><path d="M342,652.6 C336,650.5 346.17,643.1 350,640 C353.83,636.9 360,634.33 365,634 C370,633.67 376.5,634.9 380,638 C383.5,641.1 392.33,650.17 386,652.6 C379.67,655.03 348,654.7 342,652.6Z"/><path d="M326,620 C328.33,617.33 336,615.67 340,616 C344,616.33 349.67,619.33 350,622 C350.33,624.67 346,630.33 342,632 C338,633.67 328.67,634 326,632 C323.33,630 323.67,622.67 326,620Z"/></g></mask></defs>
<g clip-path="url(#c1)">
<rect x="34.2" y="586.5" width="176.4" height="132.2" fill="#CBC3D6" stroke="none" stroke-width="1"/>
<g filter="url(#bl5)" fill="#C89E88"><path d="M56,614 C60.17,610 68.83,608.17 75,608 C81.17,607.83 88.83,608.5 93,613 C97.17,617.5 97.5,626.33 100,635 C102.5,643.67 105.83,655 108,665 C110.17,675 112.67,686 113,695 C113.33,704 119.67,715 110,719 C100.33,723 65.33,723.83 55,719 C44.67,714.17 49.17,700.67 48,690 C46.83,679.33 47.67,664.67 48,655 C48.33,645.33 48.67,638.83 50,632 C51.33,625.17 51.83,618 56,614Z"/><path d="M105,586 C111.5,580.33 138.33,576.67 145,586 C151.67,595.33 147.5,631.67 145,642 C142.5,652.33 135.5,647.67 130,648 C124.5,648.33 116,648.67 112,644 C108,639.33 107.17,629.67 106,620 C104.83,610.33 98.5,591.67 105,586Z"/><path d="M150,664 C154,658.67 163.33,658.33 170,658 C176.67,657.67 185.17,658.33 190,662 C194.83,665.67 197.83,670.5 199,680 C200.17,689.5 205.17,712.5 197,719 C188.83,725.5 158.5,723.83 150,719 C141.5,714.17 146,699.17 146,690 C146,680.83 146,669.33 150,664Z"/><path d="M40,586 C43.67,583.67 58,584 62,586 C66,588 66,594.67 64,598 C62,601.33 54,605.67 50,606 C46,606.33 41.67,603.33 40,600 C38.33,596.67 36.33,588.33 40,586Z"/></g>
<g mask="url(#m1)"><rect x="34" y="586" width="177" height="133" filter="url(#n1)"/></g>
<rect x="34" y="586" width="177" height="133" filter="url(#n1w)"/>
<g filter="url(#bl3)"><ellipse cx="196" cy="712" rx="16" ry="8" fill="#D8D6E2" fill-opacity="0.85"/></g>
</g>
<g clip-path="url(#c1i)">
<rect x="144.6" y="586.5" width="66" height="66.2" fill="#CC9878" stroke="none" stroke-width="1"/>
<g filter="url(#bl3)" fill="#B4A4C4"><path d="M201,586 C202.67,582.83 209.33,576.17 211,586 C212.67,595.83 212,637.67 211,645 C210,652.33 206.67,636.67 205,630 C203.33,623.33 201.67,612.33 201,605 C200.33,597.67 199.33,589.17 201,586Z"/></g>
<g transform="rotate(-35 177.6 619.6)"><rect x="130" y="572" width="95" height="95" filter="url(#n1i)"/></g>
<rect x="144" y="586" width="67" height="67" filter="url(#n1w)"/>
</g>
<path d="M144.5,586.5 V652.4 H210.6" fill="none" stroke="#222" stroke-width="1.1"/>
<rect x="58.4" y="614.3" width="34.5" height="33.1" fill="none" stroke="#111" stroke-width="1"/>
<line x1="92.9" y1="614.3" x2="144.6" y2="652.7" stroke="#111" stroke-width="1"/>
<text x="194.3" y="714.05" font-size="8.2" font-weight="bold" text-anchor="middle" fill="#111">100X</text>
<g clip-path="url(#c2)">
<rect x="214.2" y="586.6" width="176.2" height="131.9" fill="#E3E7E4" stroke="none" stroke-width="1"/>
<g filter="url(#bl3)"><path d="M214,668 C218.33,660.17 229.83,669 240,672 C250.17,675 263.33,681 275,686 C286.67,691 299.17,697.67 310,702 C320.83,706.33 334.17,709.17 340,712 C345.83,714.83 366,717.83 345,719 C324,720.17 235.83,727.5 214,719 C192.17,710.5 209.67,675.83 214,668Z" fill="#E2D6CA"/></g>
<g filter="url(#bl1)" fill="#ADA6CE"><path d="M249.56,599.96 C252.38,597.77 260.83,597.93 266.46,599.02 C272.09,600.12 280.08,604.03 283.36,606.54 C286.65,609.04 286.8,612.01 286.18,614.05 C285.55,616.08 282.27,617.33 279.61,618.74 C276.95,620.15 273.97,622.34 270.22,622.5 C266.46,622.65 260.51,621.4 257.07,619.68 C253.63,617.96 250.81,615.46 249.56,612.17 C248.31,608.88 246.74,602.15 249.56,599.96Z"/><path d="M213.88,619.68 C218.26,614.36 233.28,618.43 240.17,617.8 C247.05,617.18 250.5,615.14 255.19,615.92 C259.89,616.71 262.39,621.25 268.34,622.5 C274.28,623.75 284.93,622.03 290.87,623.44 C296.82,624.85 300.58,627.51 304.02,630.95 C307.46,634.39 310.59,639.71 311.53,644.09 C312.47,648.48 311.53,654.42 309.65,657.24 C307.77,660.06 303.39,660.06 300.26,661 C297.13,661.93 294,663.19 290.87,662.87 C287.74,662.56 284.61,659.12 281.48,659.12 C278.35,659.12 274.28,661.62 272.09,662.87 C269.9,664.13 270.53,665.06 268.34,666.63 C266.15,668.19 263.33,671.32 258.95,672.26 C254.57,673.2 246.12,674.45 242.05,672.26 C237.98,670.07 237.67,661.93 234.54,659.12 C231.41,656.3 226.71,656.93 223.27,655.36 C219.82,653.8 215.44,655.67 213.88,649.73 C212.31,643.78 209.5,625 213.88,619.68Z"/><path d="M300,662 C304.17,659.83 317.33,658.67 325,659 C332.67,659.33 340.83,661.83 346,664 C351.17,666.17 350.33,670.5 356,672 C361.67,673.5 374,673 380,673 C386,673 390,667.67 392,672 C394,676.33 395.67,694.67 392,699 C388.33,703.33 377.83,698.83 370,698 C362.17,697.17 351.67,696.17 345,694 C338.33,691.83 335.83,688 330,685 C324.17,682 315,678.17 310,676 C305,673.83 301.67,674.33 300,672 C298.33,669.67 295.83,664.17 300,662Z"/></g>
<g filter="url(#bl1)" fill="#E6E8E4"><path d="M244,658 C245.17,655.5 251.83,648.67 255,646 C258.17,643.33 261,641 263,642 C265,643 266.67,649 267,652 C267.33,655 268.17,658.5 265,660 C261.83,661.5 251.5,661.33 248,661 C244.5,660.67 242.83,660.5 244,658Z"/><path d="M344.5,685 C345.5,683 348.42,679.83 352,679 C355.58,678.17 363.17,678.5 366,680 C368.83,681.5 370.33,686 369,688 C367.67,690 361.83,691.5 358,692 C354.17,692.5 348.25,692.17 346,691 C343.75,689.83 343.5,687 344.5,685Z"/></g>
<g mask="url(#m2)"><rect x="214" y="586" width="177" height="133" filter="url(#n2)"/></g>
<g filter="url(#bl05)"><path d="M219.8,598.5 C221,595 226,594 233,593.6 C230,596.5 225,599 219.8,598.5 Z" fill="#3C3560"/><path d="M233,593.6 L246,591" stroke="#B09080" stroke-width="0.8" fill="none"/></g>
</g>
<g clip-path="url(#c2i)">
<rect x="324.1" y="586.6" width="66.2" height="66" fill="#A39CC8" stroke="none" stroke-width="1"/>
<g filter="url(#bl3)" fill="#E2E2E4"><path d="M350,586 C354.33,584 384.17,581.67 391,586 C397.83,590.33 392.83,608.83 391,612 C389.17,615.17 384.33,607.33 380,605 C375.67,602.67 370,601.17 365,598 C360,594.83 345.67,588 350,586Z"/><path d="M342,652.6 C336,650.5 346.17,643.1 350,640 C353.83,636.9 360,634.33 365,634 C370,633.67 376.5,634.9 380,638 C383.5,641.1 392.33,650.17 386,652.6 C379.67,655.03 348,654.7 342,652.6Z"/><path d="M326,620 C328.33,617.33 336,615.67 340,616 C344,616.33 349.67,619.33 350,622 C350.33,624.67 346,630.33 342,632 C338,633.67 328.67,634 326,632 C323.33,630 323.67,622.67 326,620Z"/></g>
<g mask="url(#m2i)"><rect x="324" y="586" width="67" height="67" filter="url(#n2)"/></g>
</g>
<path d="M324.1,586.6 V652.6 H390.3" fill="none" stroke="#222" stroke-width="1.1"/>
<rect x="268.5" y="622.8" width="34.1" height="32.5" fill="none" stroke="#111" stroke-width="1"/>
<line x1="302.6" y1="622.8" x2="324.1" y2="652.6" stroke="#111" stroke-width="1"/>
<text x="374" y="714.05" font-size="8.2" font-weight="bold" text-anchor="middle" fill="#111">100X</text>
</g>
</svg></body></html>
